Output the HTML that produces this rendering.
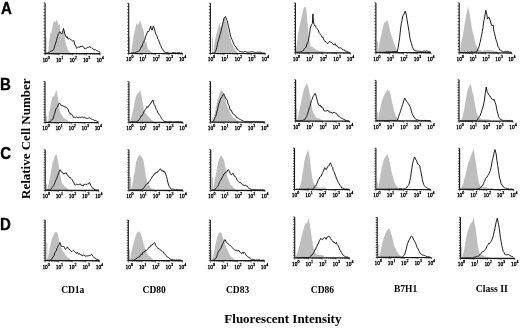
<!DOCTYPE html>
<html><head><meta charset="utf-8"><style>
html,body{margin:0;padding:0;background:#fff;}
svg{display:block;}
.t{font-family:"Liberation Serif",serif;font-size:5.4px;fill:#000;stroke:#000;stroke-width:0.3px;}
.sp{font-size:4px;}
.rl{font-family:"Liberation Sans",sans-serif;font-weight:bold;font-size:16px;fill:#000;stroke:#000;stroke-width:0.3px;}
.cl{font-family:"Liberation Serif",serif;font-weight:bold;font-size:9.5px;fill:#000;}
.ax{font-family:"Liberation Serif",serif;font-weight:bold;font-size:13px;fill:#000;}
</style></head><body>
<svg style="will-change:transform" width="520" height="328" viewBox="0 0 520 328">
<rect width="520" height="328" fill="#fff"/>
<text class="rl" transform="translate(0.9,13.6) scale(0.94,1)">A</text>
<text class="rl" transform="translate(0.1,90.4) scale(0.94,1)">B</text>
<text class="rl" transform="translate(0.2,158.7) scale(0.94,1)">C</text>
<text class="rl" transform="translate(0.1,229.8) scale(0.94,1)">D</text>
<text class="ax" transform="translate(30.3,138.7) rotate(-90)" text-anchor="middle">Relative Cell Number</text>
<text class="cl" x="72.75" y="293" text-anchor="middle">CD1a</text>
<text class="cl" x="154.2" y="293" text-anchor="middle">CD80</text>
<text class="cl" x="237.6" y="292.7" text-anchor="middle">CD83</text>
<text class="cl" x="322.4" y="292.7" text-anchor="middle">CD86</text>
<text class="cl" x="405.6" y="291.8" text-anchor="middle">B7H1</text>
<text class="cl" x="491.8" y="291.8" text-anchor="middle" style="font-size:9.7px">Class II</text>
<text class="ax" x="282.9" y="322.8" text-anchor="middle">Fluorescent Intensity</text>
<polygon points="45.2,53.6 45.2,53.6 45.3,36.6 46.5,36.6 46.6,53.6 47.35,53.49 48.1,53.6 48.9,43.2 49.75,36.82 50.6,31.7 51.4,33.3 52.2,28.4 53.1,23.4 54.2,21 55.2,22.6 56.4,20.1 57.5,21.8 58.5,25 59.7,24.2 60.5,31.7 61.8,36.6 62.9,30.8 63.8,28.4 64.6,36.6 65.7,43.2 67.1,48.1 67.9,49.93 68.7,51.4 69.55,51.84 70.4,53 71,53.6 71,53.6" fill="#bebebe"/>
<polyline points="45.3,53.3 45.9,53.24 46.5,53.04 47.1,52.72 47.7,52.97 48.3,52.53 48.9,52.8 49.56,52.3 50.22,51.52 50.88,51.07 51.54,50.96 52.2,50.6 53.05,50.22 53.9,49 54.55,46.24 55.2,44.8 56.4,40.7 57.5,36.6 58.15,34.4 58.8,33.3 59.7,31.7 60.5,32.5 61.15,33.55 61.8,34.1 62.9,30.8 63.5,28.4 64.1,30.5 65.1,35 66.2,37.4 67.2,36.5 67.8,38.7 68.4,39.1 69.5,38.4 70.5,39.5 71.5,40.1 72.2,40.75 72.9,41.1 73.9,40.6 74.9,44.5 75.9,46.5 76.8,48.4 77.8,47.4 78.55,47.02 79.3,47 80,47.37 80.7,46 81.7,47 82.45,45.94 83.2,46.5 84.2,47.9 84.9,48.94 85.6,48.9 86.35,48.08 87.1,47.9 87.85,47.07 88.6,47.4 89.3,46.54 90,47 91,47.4 92,48.4 92.7,48.37 93.4,48.9 94.15,49.83 94.9,49.9 95.65,49.76 96.4,50.4 97.1,50.74 97.8,50.9 98.55,51.49 99.3,51.8 100.05,52.44 100.8,53.3" fill="none" stroke="#111" stroke-width="0.95" stroke-linejoin="round"/>
<line x1="45.1" y1="2.9" x2="45.1" y2="53.6" stroke="#1a1a1a" stroke-width="1.15"/>
<path d="M43.6 2.9h1.5 M43.6 6.07h1.5 M43.6 9.24h1.5 M43.6 12.41h1.5 M43.6 15.58h1.5 M43.6 18.74h1.5 M43.6 21.91h1.5 M43.6 25.08h1.5 M43.6 28.25h1.5 M43.6 31.42h1.5 M43.6 34.59h1.5 M43.6 37.76h1.5 M43.6 40.93h1.5 M43.6 44.09h1.5 M43.6 47.26h1.5 M43.6 50.43h1.5 M43.6 53.6h1.5" stroke="#1a1a1a" stroke-width="0.75"/>
<line x1="45.1" y1="53.6" x2="100.1" y2="53.6" stroke="#1a1a1a" stroke-width="1.2"/>
<path d="M45.1 53.6v1.8 M49.24 53.6v1 M51.66 53.6v1 M53.38 53.6v1 M54.71 53.6v1 M55.8 53.6v1 M56.72 53.6v1 M57.52 53.6v1 M58.22 53.6v1 M58.85 53.6v1.8 M62.99 53.6v1 M65.41 53.6v1 M67.13 53.6v1 M68.46 53.6v1 M69.55 53.6v1 M70.47 53.6v1 M71.27 53.6v1 M71.97 53.6v1 M72.6 53.6v1.8 M76.74 53.6v1 M79.16 53.6v1 M80.88 53.6v1 M82.21 53.6v1 M83.3 53.6v1 M84.22 53.6v1 M85.02 53.6v1 M85.72 53.6v1 M86.35 53.6v1.8 M90.49 53.6v1 M92.91 53.6v1 M94.63 53.6v1 M95.96 53.6v1 M97.05 53.6v1 M97.97 53.6v1 M98.77 53.6v1 M99.47 53.6v1 M100.1 53.6v1.8" stroke="#1a1a1a" stroke-width="0.6"/>
<text x="42.4" y="61.5" class="t">10<tspan class="sp" dy="-3.0">0</tspan></text>
<text x="55.9" y="61.5" class="t">10<tspan class="sp" dy="-3.0">1</tspan></text>
<text x="69.4" y="61.5" class="t">10<tspan class="sp" dy="-3.0">2</tspan></text>
<text x="82.9" y="61.5" class="t">10<tspan class="sp" dy="-3.0">3</tspan></text>
<text x="96.4" y="61.5" class="t">10<tspan class="sp" dy="-3.0">4</tspan></text>
<polygon points="129.16,53.5 129.16,53.5 129.16,36.51 130.16,36.51 130.16,53.5 131.02,53.48 131.8,47.63 132.59,42.75 133.37,37.87 134.15,33.97 134.73,31.04 135.71,26.17 136.68,22.65 137.66,25.19 138.83,23.24 139.61,21.87 140.39,20.51 141.17,23.24 142.34,27.14 143.71,31.04 144.49,37.87 145.46,42.75 146.44,40.8 147.22,46.46 148.39,49.19 149.37,50.22 150.34,51.14 151.07,51.34 151.8,51.96 152.54,52.69 153.27,53.48 153.27,53.5" fill="#bebebe"/>
<polyline points="129.85,53.48 130.5,53.2 131.15,53.2 131.8,53.03 132.46,53.11 133.11,52.91 133.76,52.68 134.41,52.95 135.06,52.77 135.71,52.51 136.44,51.94 137.17,51.89 137.9,51.51 138.63,51.14 139.28,50.74 139.93,49.75 140.59,48.6 141.32,46.78 142.05,46.62 142.78,43.45 143.51,42.75 144.21,40.64 144.92,39.36 145.62,36.2 146.32,34.92 147.02,33 147.8,31.23 148.59,31.64 149.37,30.46 150.15,28.12 150.73,26.17 151.32,29.09 152.29,30.07 153.27,26.17 154.24,28.12 155.22,32.02 155.87,34.04 156.52,35.16 157.17,36.51 157.82,39.01 158.47,39.65 159.12,41.78 159.85,43.87 160.59,45.38 161.32,47.04 162.05,48.6 162.78,49.47 163.51,50.85 164.24,51.83 164.98,52.31 165.71,52.39 166.44,52.64 167.17,52.25 167.9,52.7 168.63,52.95 169.37,53.01 170.1,53.2 170.83,53.09 171.56,53.19 172.29,52.63 173.02,52.56 173.76,52.51 174.49,52.79 175.22,52.43 175.95,52.92 176.68,53.09 177.41,52.75 178.15,52.61 178.88,52.46 179.61,52.7 180.34,53.1 181.07,52.83 181.8,53.11 182.54,53.2" fill="none" stroke="#111" stroke-width="0.95" stroke-linejoin="round"/>
<line x1="128.7" y1="3.3" x2="128.7" y2="53.5" stroke="#1a1a1a" stroke-width="1.15"/>
<path d="M127.2 3.3h1.5 M127.2 6.44h1.5 M127.2 9.57h1.5 M127.2 12.71h1.5 M127.2 15.85h1.5 M127.2 18.99h1.5 M127.2 22.13h1.5 M127.2 25.26h1.5 M127.2 28.4h1.5 M127.2 31.54h1.5 M127.2 34.67h1.5 M127.2 37.81h1.5 M127.2 40.95h1.5 M127.2 44.09h1.5 M127.2 47.23h1.5 M127.2 50.36h1.5 M127.2 53.5h1.5" stroke="#1a1a1a" stroke-width="0.75"/>
<line x1="128.7" y1="53.5" x2="182.6" y2="53.5" stroke="#1a1a1a" stroke-width="1.2"/>
<path d="M128.7 53.5v1.8 M132.76 53.5v1 M135.13 53.5v1 M136.81 53.5v1 M138.12 53.5v1 M139.19 53.5v1 M140.09 53.5v1 M140.87 53.5v1 M141.56 53.5v1 M142.17 53.5v1.8 M146.23 53.5v1 M148.6 53.5v1 M150.29 53.5v1 M151.59 53.5v1 M152.66 53.5v1 M153.56 53.5v1 M154.34 53.5v1 M155.03 53.5v1 M155.65 53.5v1.8 M159.71 53.5v1 M162.08 53.5v1 M163.76 53.5v1 M165.07 53.5v1 M166.14 53.5v1 M167.04 53.5v1 M167.82 53.5v1 M168.51 53.5v1 M169.12 53.5v1.8 M173.18 53.5v1 M175.55 53.5v1 M177.24 53.5v1 M178.54 53.5v1 M179.61 53.5v1 M180.51 53.5v1 M181.29 53.5v1 M181.98 53.5v1 M182.6 53.5v1.8" stroke="#1a1a1a" stroke-width="0.6"/>
<text x="126" y="61.4" class="t">10<tspan class="sp" dy="-3.0">0</tspan></text>
<text x="139.22" y="61.4" class="t">10<tspan class="sp" dy="-3.0">1</tspan></text>
<text x="152.45" y="61.4" class="t">10<tspan class="sp" dy="-3.0">2</tspan></text>
<text x="165.67" y="61.4" class="t">10<tspan class="sp" dy="-3.0">3</tspan></text>
<text x="178.9" y="61.4" class="t">10<tspan class="sp" dy="-3.0">4</tspan></text>
<polygon points="211.94,53.5 211.94,53.5 211.94,37.87 212.94,37.87 212.94,53.5 213.41,53.48 214,46.46 214.59,42.75 215.37,37.87 216.34,34.36 217.32,31.04 218.1,28.12 218.88,24.21 219.46,22.26 220.24,26.17 221.22,28.12 222.2,23.82 223.17,19.34 224.34,17 225.51,17.97 226.49,21.87 227.46,26.17 228.44,31.71 229.41,35.92 230.39,38.58 231.37,42.75 232.34,44.61 233.32,46.65 234.05,47.7 234.78,49.13 235.51,49.97 236.24,50.56 237.22,52.33 238.2,53.48 238.2,53.5" fill="#bebebe"/>
<polyline points="211.85,53.48 212.59,53.14 213.32,53.03 214.05,52.79 214.78,52.7 215.43,51.42 216.08,49.94 216.73,47.63 217.38,44.33 218.03,41.78 218.68,39.82 219.33,37.01 219.98,34.74 220.63,33 221.28,30.04 221.93,27.32 222.59,24.21 223.24,21.46 223.89,18.67 224.54,17.39 225.51,16.41 226.49,19.34 227.07,20.31 227.76,23.08 228.44,26.17 229.09,28.83 229.74,32.15 230.39,34.95 231.12,37.8 231.85,39.23 232.59,40.83 233.32,42.75 233.97,44.29 234.62,45.71 235.27,46.65 235.92,46.55 236.57,48.58 237.22,48.6 237.95,49.71 238.68,50.53 239.41,51.13 240.15,51.53 240.88,51.63 241.61,51.83 242.34,51.77 243.07,52.31 243.72,52.17 244.37,51.38 245.02,51.53 245.67,51.46 246.33,51.93 246.98,52.51 247.71,52.18 248.44,52.28 249.17,51.99 249.9,52.31 250.63,51.78 251.37,51.81 252.1,51.66 252.83,51.92 253.56,52 254.29,51.91 255.02,52.81 255.76,52.7 256.49,52.7 257.22,52.22 257.95,52.2 258.68,52.31 259.41,52.28 260.15,52.4 260.88,52.3 261.61,52.7 262.26,53.1 262.91,53.2 263.56,53.07 264.21,53.2 264.86,53.07 265.51,53.2" fill="none" stroke="#111" stroke-width="0.95" stroke-linejoin="round"/>
<line x1="210.4" y1="3.3" x2="210.4" y2="53.5" stroke="#1a1a1a" stroke-width="1.15"/>
<path d="M208.9 3.3h1.5 M208.9 6.44h1.5 M208.9 9.57h1.5 M208.9 12.71h1.5 M208.9 15.85h1.5 M208.9 18.99h1.5 M208.9 22.13h1.5 M208.9 25.26h1.5 M208.9 28.4h1.5 M208.9 31.54h1.5 M208.9 34.67h1.5 M208.9 37.81h1.5 M208.9 40.95h1.5 M208.9 44.09h1.5 M208.9 47.23h1.5 M208.9 50.36h1.5 M208.9 53.5h1.5" stroke="#1a1a1a" stroke-width="0.75"/>
<line x1="210.4" y1="53.5" x2="265.25" y2="53.5" stroke="#1a1a1a" stroke-width="1.2"/>
<path d="M210.4 53.5v1.8 M214.53 53.5v1 M216.94 53.5v1 M218.66 53.5v1 M219.98 53.5v1 M221.07 53.5v1 M221.99 53.5v1 M222.78 53.5v1 M223.49 53.5v1 M224.11 53.5v1.8 M228.24 53.5v1 M230.66 53.5v1 M232.37 53.5v1 M233.7 53.5v1 M234.78 53.5v1 M235.7 53.5v1 M236.5 53.5v1 M237.2 53.5v1 M237.82 53.5v1.8 M241.95 53.5v1 M244.37 53.5v1 M246.08 53.5v1 M247.41 53.5v1 M248.5 53.5v1 M249.41 53.5v1 M250.21 53.5v1 M250.91 53.5v1 M251.54 53.5v1.8 M255.67 53.5v1 M258.08 53.5v1 M259.79 53.5v1 M261.12 53.5v1 M262.21 53.5v1 M263.13 53.5v1 M263.92 53.5v1 M264.62 53.5v1 M265.25 53.5v1.8" stroke="#1a1a1a" stroke-width="0.6"/>
<text x="207.7" y="61.4" class="t">10<tspan class="sp" dy="-3.0">0</tspan></text>
<text x="221.16" y="61.4" class="t">10<tspan class="sp" dy="-3.0">1</tspan></text>
<text x="234.62" y="61.4" class="t">10<tspan class="sp" dy="-3.0">2</tspan></text>
<text x="248.09" y="61.4" class="t">10<tspan class="sp" dy="-3.0">3</tspan></text>
<text x="261.55" y="61.4" class="t">10<tspan class="sp" dy="-3.0">4</tspan></text>
<polygon points="295.46,52.8 295.46,52.78 296.44,46.54 297.22,41.08 298,35.03 298.98,29.37 300.15,23.51 301.32,18.44 302.29,13.76 303.27,9.86 304.24,7.51 305.22,6.15 306.2,8.88 307.17,18.44 307.95,27.42 308.73,35.03 309.71,42.05 310.49,46.15 311.85,46.93 312.63,46.85 313.41,47.9 314.39,48.39 315.37,49.27 316.1,49.4 316.83,50.39 317.56,50.11 318.29,50.83 319.05,50.51 319.81,51.45 320.57,51.18 321.33,50.96 322.09,51.41 322.85,51.09 323.6,51.61 324.36,52.08 325.12,51.81 325.84,52.1 326.56,51.98 327.28,51.65 328,51.75 328.72,51.6 329.44,52.08 330.15,51.9 330.87,52.1 331.59,51.77 332.31,51.7 333.03,52.16 333.75,52.3 334.47,52.21 335.19,52.18 335.91,52.2 336.62,52.15 337.34,51.78 338.06,52.01 338.78,52 339.76,52.29 340.73,52.78 340.73,52.8" fill="#bebebe"/>
<polyline points="295.5,52.6 296.2,52.21 296.9,52.15 297.6,52.26 298.3,52.19 299,52.3 299.65,52.15 300.3,52.08 300.95,51.35 301.6,51.51 302.25,51.28 302.9,50.5 303.5,50.42 304.1,49.13 304.7,48.33 305.3,47.71 305.9,47.5 306.63,45 307.37,43.04 308.1,41.7 308.8,38.3 309.5,34.4 310.2,28.5 311.4,24.8 312.4,23.4 312.9,13.9 313.5,22 313.9,24.1 314.65,25.65 315.4,25.6 316.1,27.73 316.8,28.5 318,29.5 319.1,32.6 319.83,33.49 320.57,34.77 321.3,35.4 322.03,37.27 322.77,37.1 323.5,39.2 324.23,40.25 324.97,41.49 325.7,41.4 326.43,42.7 327.17,43.37 327.9,43.6 328.63,42.82 329.37,41.49 330.1,41.4 330.9,42.53 331.7,42.5 332.55,43.27 333.4,44.7 334.2,44.75 335,43.6 335.73,45.44 336.47,45.2 337.2,46.3 337.88,46.56 338.55,47.86 339.22,47.92 339.9,48 340.56,47.86 341.22,48.14 341.88,48.51 342.54,49.78 343.2,49.6 343.86,50.29 344.52,49.9 345.18,50.95 345.84,51.42 346.5,51.3 347.16,51.73 347.82,51.78 348.48,52.24 349.14,52.24 349.8,52.5" fill="none" stroke="#111" stroke-width="0.95" stroke-linejoin="round"/>
<line x1="295.4" y1="2.9" x2="295.4" y2="52.8" stroke="#1a1a1a" stroke-width="1.15"/>
<path d="M293.9 2.9h1.5 M293.9 6.02h1.5 M293.9 9.14h1.5 M293.9 12.26h1.5 M293.9 15.38h1.5 M293.9 18.49h1.5 M293.9 21.61h1.5 M293.9 24.73h1.5 M293.9 27.85h1.5 M293.9 30.97h1.5 M293.9 34.09h1.5 M293.9 37.21h1.5 M293.9 40.32h1.5 M293.9 43.44h1.5 M293.9 46.56h1.5 M293.9 49.68h1.5 M293.9 52.8h1.5" stroke="#1a1a1a" stroke-width="0.75"/>
<line x1="295.4" y1="52.8" x2="350.45" y2="52.8" stroke="#1a1a1a" stroke-width="1.2"/>
<path d="M295.4 52.8v1.8 M299.54 52.8v1 M301.97 52.8v1 M303.69 52.8v1 M305.02 52.8v1 M306.11 52.8v1 M307.03 52.8v1 M307.83 52.8v1 M308.53 52.8v1 M309.16 52.8v1.8 M313.31 52.8v1 M315.73 52.8v1 M317.45 52.8v1 M318.78 52.8v1 M319.87 52.8v1 M320.79 52.8v1 M321.59 52.8v1 M322.3 52.8v1 M322.92 52.8v1.8 M327.07 52.8v1 M329.49 52.8v1 M331.21 52.8v1 M332.54 52.8v1 M333.63 52.8v1 M334.56 52.8v1 M335.35 52.8v1 M336.06 52.8v1 M336.69 52.8v1.8 M340.83 52.8v1 M343.25 52.8v1 M344.97 52.8v1 M346.31 52.8v1 M347.4 52.8v1 M348.32 52.8v1 M349.12 52.8v1 M349.82 52.8v1 M350.45 52.8v1.8" stroke="#1a1a1a" stroke-width="0.6"/>
<text x="292.7" y="60.7" class="t">10<tspan class="sp" dy="-3.0">0</tspan></text>
<text x="306.21" y="60.7" class="t">10<tspan class="sp" dy="-3.0">1</tspan></text>
<text x="319.73" y="60.7" class="t">10<tspan class="sp" dy="-3.0">2</tspan></text>
<text x="333.24" y="60.7" class="t">10<tspan class="sp" dy="-3.0">3</tspan></text>
<text x="346.75" y="60.7" class="t">10<tspan class="sp" dy="-3.0">4</tspan></text>
<polygon points="376.91,52.7 376.91,52.7 376.91,41.38 377.91,41.38 377.91,52.7 378.78,47.23 379.76,41.48 380.73,37.47 381.71,33.44 382.68,27.72 383.66,25.06 384.63,21.86 385.61,22.84 386.59,19.91 387.95,21.86 388.73,24.84 389.51,27.72 390.49,32.4 391.46,35.52 392.44,38.33 393.41,41.38 394.2,44 394.98,45.28 396.34,49.18 397.32,50.67 398.29,51.52 399.02,51.59 399.76,51.93 400.49,52.26 401.22,52.69 401.22,52.7" fill="#bebebe"/>
<polyline points="375.9,52.69 376.55,52.4 377.19,52.4 377.84,52.4 378.48,52.4 379.13,52.22 379.77,52.4 380.42,52.29 381.06,52.32 381.71,52.3 382.31,52.33 382.91,52.4 383.51,52.15 384.11,52.4 384.71,52.15 385.31,52.15 385.91,52.11 386.51,51.7 387.11,51.99 387.71,51.76 388.31,51.59 388.91,52.17 389.51,51.91 390.16,51.59 390.81,51.76 391.46,51.9 392.11,51.7 392.76,51.44 393.41,51.52 394.07,51.54 394.72,51.57 395.37,51.76 396.02,51.19 396.67,51.57 397.32,51.52 398.29,47.23 398.98,41.85 399.66,37.47 400.44,30.2 401.22,23.81 402,20.46 402.78,16.01 403.46,15.05 404.15,14.06 405.12,11.13 406.1,14.06 407.07,19.91 408.05,25.77 409.02,31.62 410,38.45 410.68,41.01 411.37,43.33 412.15,46.24 412.93,48.2 413.58,49.57 414.23,49.83 414.88,50.74 415.53,50.94 416.18,50.92 416.83,51.01 417.48,51.27 418.13,51.13 418.78,51.29 419.43,51.33 420.08,51.82 420.73,51.52 421.38,51.63 422.03,51.72 422.68,51.72 423.33,51.05 423.98,51.25 424.63,51.13 425.28,51.6 425.93,51.56 426.59,51.01 427.24,51.06 427.89,51.41 428.54,51.52 429.19,51.3 429.84,51.57 430.49,51.91" fill="none" stroke="#111" stroke-width="0.95" stroke-linejoin="round"/>
<line x1="375.9" y1="2.9" x2="375.9" y2="52.7" stroke="#1a1a1a" stroke-width="1.15"/>
<path d="M374.4 2.9h1.5 M374.4 6.01h1.5 M374.4 9.12h1.5 M374.4 12.24h1.5 M374.4 15.35h1.5 M374.4 18.46h1.5 M374.4 21.57h1.5 M374.4 24.69h1.5 M374.4 27.8h1.5 M374.4 30.91h1.5 M374.4 34.03h1.5 M374.4 37.14h1.5 M374.4 40.25h1.5 M374.4 43.36h1.5 M374.4 46.48h1.5 M374.4 49.59h1.5 M374.4 52.7h1.5" stroke="#1a1a1a" stroke-width="0.75"/>
<line x1="375.9" y1="52.7" x2="430.9" y2="52.7" stroke="#1a1a1a" stroke-width="1.2"/>
<path d="M375.9 52.7v1.8 M380.04 52.7v1 M382.46 52.7v1 M384.18 52.7v1 M385.51 52.7v1 M386.6 52.7v1 M387.52 52.7v1 M388.32 52.7v1 M389.02 52.7v1 M389.65 52.7v1.8 M393.79 52.7v1 M396.21 52.7v1 M397.93 52.7v1 M399.26 52.7v1 M400.35 52.7v1 M401.27 52.7v1 M402.07 52.7v1 M402.77 52.7v1 M403.4 52.7v1.8 M407.54 52.7v1 M409.96 52.7v1 M411.68 52.7v1 M413.01 52.7v1 M414.1 52.7v1 M415.02 52.7v1 M415.82 52.7v1 M416.52 52.7v1 M417.15 52.7v1.8 M421.29 52.7v1 M423.71 52.7v1 M425.43 52.7v1 M426.76 52.7v1 M427.85 52.7v1 M428.77 52.7v1 M429.57 52.7v1 M430.27 52.7v1 M430.9 52.7v1.8" stroke="#1a1a1a" stroke-width="0.6"/>
<text x="373.2" y="60.6" class="t">10<tspan class="sp" dy="-3.0">0</tspan></text>
<text x="386.7" y="60.6" class="t">10<tspan class="sp" dy="-3.0">1</tspan></text>
<text x="400.2" y="60.6" class="t">10<tspan class="sp" dy="-3.0">2</tspan></text>
<text x="413.7" y="60.6" class="t">10<tspan class="sp" dy="-3.0">3</tspan></text>
<text x="427.2" y="60.6" class="t">10<tspan class="sp" dy="-3.0">4</tspan></text>
<polygon points="459.85,52.8 459.85,52.79 460.83,45.38 461.8,39.73 462.78,35.62 463.56,31.05 464.34,25.87 465.32,20.52 466.29,14.16 467.07,11.26 467.85,6.94 468.63,8.95 469.41,12.21 470.2,17.47 470.98,21.96 471.76,27.13 472.54,31.72 473.51,34.98 474.49,39.52 475.46,43.14 476.44,45.38 477.41,48.01 478.39,49.28 479.12,49.26 479.85,50.35 480.59,50.05 481.32,50.45 482.05,50.41 482.78,50.89 483.51,50.71 484.24,50.02 484.98,50.26 485.71,50.32 486.44,50.12 487.17,50.26 487.9,50 488.63,50.17 489.37,50.62 490.1,49.98 490.83,50.55 491.56,50.49 492.29,50.13 493.02,50.65 493.8,50.69 494.59,51.15 495.37,51.24 496.15,51.06 496.93,51.62 497.9,52.56 498.88,52.79 498.88,52.8" fill="#bebebe"/>
<polyline points="459.85,52.79 460.46,52.5 461.07,52.5 461.68,52.42 462.29,52.49 462.9,52.3 463.51,52.5 464.12,52.38 464.73,52.24 465.34,52.41 465.95,52.5 466.56,52.5 467.17,52.18 467.78,52.06 468.39,52.5 469,52.3 469.61,52.21 470.23,52.34 470.85,51.86 471.47,51.82 472.09,52.28 472.71,52.06 473.33,51.77 473.96,52.42 474.58,52.17 475.2,52.28 475.82,51.71 476.44,52.01 477.09,51.13 477.74,49.02 478.39,48.3 479.04,46.67 479.69,43.66 480.34,41.48 480.99,37.9 481.64,35.08 482.29,31.72 482.98,27.69 483.66,21.96 484.83,16.11 485.8,10.26 486.78,14.16 487.56,19.04 488.73,17.09 489.71,19.04 490.39,21.01 491.07,23.91 492.05,25.87 493.02,24.89 494,31.72 494.65,33.58 495.3,36.98 495.95,39.52 496.6,41.28 497.25,43.3 497.9,46.35 498.55,47.14 499.2,48.37 499.85,50.26 500.59,50.29 501.32,50.76 502.05,51.1 502.78,51.62 503.43,51.84 504.08,51.44 504.73,51.62 505.38,51.35 506.03,51.49 506.68,51.62 507.29,51.32 507.9,51.61 508.51,51.53 509.12,52.19 509.73,52.15 510.34,51.97 510.95,52.29 511.56,52.4" fill="none" stroke="#111" stroke-width="0.95" stroke-linejoin="round"/>
<line x1="459.2" y1="2.9" x2="459.2" y2="52.8" stroke="#1a1a1a" stroke-width="1.15"/>
<path d="M457.7 2.9h1.5 M457.7 6.02h1.5 M457.7 9.14h1.5 M457.7 12.26h1.5 M457.7 15.38h1.5 M457.7 18.49h1.5 M457.7 21.61h1.5 M457.7 24.73h1.5 M457.7 27.85h1.5 M457.7 30.97h1.5 M457.7 34.09h1.5 M457.7 37.21h1.5 M457.7 40.32h1.5 M457.7 43.44h1.5 M457.7 46.56h1.5 M457.7 49.68h1.5 M457.7 52.8h1.5" stroke="#1a1a1a" stroke-width="0.75"/>
<line x1="459.2" y1="52.8" x2="511.85" y2="52.8" stroke="#1a1a1a" stroke-width="1.2"/>
<path d="M459.2 52.8v1.8 M463.16 52.8v1 M465.48 52.8v1 M467.12 52.8v1 M468.4 52.8v1 M469.44 52.8v1 M470.32 52.8v1 M471.09 52.8v1 M471.76 52.8v1 M472.36 52.8v1.8 M476.32 52.8v1 M478.64 52.8v1 M480.29 52.8v1 M481.56 52.8v1 M482.6 52.8v1 M483.49 52.8v1 M484.25 52.8v1 M484.92 52.8v1 M485.52 52.8v1.8 M489.49 52.8v1 M491.81 52.8v1 M493.45 52.8v1 M494.73 52.8v1 M495.77 52.8v1 M496.65 52.8v1 M497.41 52.8v1 M498.09 52.8v1 M498.69 52.8v1.8 M502.65 52.8v1 M504.97 52.8v1 M506.61 52.8v1 M507.89 52.8v1 M508.93 52.8v1 M509.81 52.8v1 M510.57 52.8v1 M511.25 52.8v1 M511.85 52.8v1.8" stroke="#1a1a1a" stroke-width="0.6"/>
<text x="456.5" y="60.7" class="t">10<tspan class="sp" dy="-3.0">0</tspan></text>
<text x="469.41" y="60.7" class="t">10<tspan class="sp" dy="-3.0">1</tspan></text>
<text x="482.33" y="60.7" class="t">10<tspan class="sp" dy="-3.0">2</tspan></text>
<text x="495.24" y="60.7" class="t">10<tspan class="sp" dy="-3.0">3</tspan></text>
<text x="508.15" y="60.7" class="t">10<tspan class="sp" dy="-3.0">4</tspan></text>
<polygon points="45.94,122.5 45.94,122.5 45.94,115.68 46.94,115.68 46.94,122.5 48.2,122.5 48.78,113.73 49.76,109.63 50.73,103.97 52.1,98.12 53.27,95.19 54.05,97.14 54.83,93.99 55.61,92.26 56.59,90.31 57.56,96.17 58.54,102.02 59.51,109.82 60.49,112.84 61.46,114.7 62.44,116.06 63.41,117.63 64.15,118.11 64.88,119.01 65.61,118.97 66.34,119.58 67.07,119.98 67.8,120.54 68.54,121.18 69.27,121.14 70.24,121.71 71.22,122.5 71.22,122.5" fill="#bebebe"/>
<polyline points="45.85,122.5 46.5,122.2 47.15,122.2 47.8,122.2 48.46,122.05 49.11,121.91 49.76,121.92 50.49,120.96 51.22,120.4 51.95,119.72 52.68,119.58 53.33,117.98 53.98,115.24 54.63,113.73 55.28,111.1 55.93,108.99 56.59,107.87 57.24,107.25 57.89,106.01 58.54,103.97 59.51,103 60.16,104.31 60.81,104.51 61.46,105.92 62.24,105.41 63.02,105.92 63.71,106 64.39,106.9 65.04,107.14 65.69,106.86 66.34,107.87 66.99,108.42 67.64,108.7 68.29,109.82 68.98,112.21 69.66,112.75 70.44,114.18 71.22,113.73 71.87,114.79 72.52,115.22 73.17,116.65 73.82,117.71 74.47,117.02 75.12,117.63 75.77,117.42 76.42,116.9 77.07,117.46 77.72,117.59 78.37,117.63 79.02,117.63 79.67,117.19 80.33,117.64 80.98,116.91 81.63,117.28 82.28,117.03 82.93,117.63 83.58,117.65 84.23,117.31 84.88,117.46 85.53,118.01 86.18,118.09 86.83,118.6 87.56,118.48 88.29,118.16 89.02,118.23 89.76,117.63 90.49,118.33 91.22,118.89 91.95,119.55 92.68,119.58 93.33,119.72 93.98,119.92 94.63,120.85 95.28,120.28 95.93,121.09 96.59,121.14 97.24,121.58 97.89,121.44 98.54,122.12" fill="none" stroke="#111" stroke-width="0.95" stroke-linejoin="round"/>
<line x1="45" y1="81.5" x2="45" y2="122.5" stroke="#1a1a1a" stroke-width="1.15"/>
<path d="M43.5 81.5h1.5 M43.5 84.06h1.5 M43.5 86.62h1.5 M43.5 89.19h1.5 M43.5 91.75h1.5 M43.5 94.31h1.5 M43.5 96.88h1.5 M43.5 99.44h1.5 M43.5 102h1.5 M43.5 104.56h1.5 M43.5 107.12h1.5 M43.5 109.69h1.5 M43.5 112.25h1.5 M43.5 114.81h1.5 M43.5 117.38h1.5 M43.5 119.94h1.5 M43.5 122.5h1.5" stroke="#1a1a1a" stroke-width="0.75"/>
<line x1="45" y1="122.5" x2="98.35" y2="122.5" stroke="#1a1a1a" stroke-width="1.2"/>
<path d="M45 122.5v1.8 M49.01 122.5v1 M51.36 122.5v1 M53.03 122.5v1 M54.32 122.5v1 M55.38 122.5v1 M56.27 122.5v1 M57.04 122.5v1 M57.73 122.5v1 M58.34 122.5v1.8 M62.35 122.5v1 M64.7 122.5v1 M66.37 122.5v1 M67.66 122.5v1 M68.72 122.5v1 M69.61 122.5v1 M70.38 122.5v1 M71.06 122.5v1 M71.67 122.5v1.8 M75.69 122.5v1 M78.04 122.5v1 M79.7 122.5v1 M81 122.5v1 M82.05 122.5v1 M82.95 122.5v1 M83.72 122.5v1 M84.4 122.5v1 M85.01 122.5v1.8 M89.03 122.5v1 M91.38 122.5v1 M93.04 122.5v1 M94.34 122.5v1 M95.39 122.5v1 M96.28 122.5v1 M97.06 122.5v1 M97.74 122.5v1 M98.35 122.5v1.8" stroke="#1a1a1a" stroke-width="0.6"/>
<text x="42.3" y="130.4" class="t">10<tspan class="sp" dy="-3.0">0</tspan></text>
<text x="55.39" y="130.4" class="t">10<tspan class="sp" dy="-3.0">1</tspan></text>
<text x="68.47" y="130.4" class="t">10<tspan class="sp" dy="-3.0">2</tspan></text>
<text x="81.56" y="130.4" class="t">10<tspan class="sp" dy="-3.0">3</tspan></text>
<text x="94.65" y="130.4" class="t">10<tspan class="sp" dy="-3.0">4</tspan></text>
<polygon points="129.85,122.3 129.85,122.3 130.83,119.38 131.8,116.03 132.78,111.58 133.76,107.4 134.73,101.82 136.1,95.97 136.88,94.73 137.66,93.04 138.44,92.97 139.22,92.06 140,89.14 141.17,94.01 142.54,101.82 143.9,109.62 144.68,112.14 145.46,113.53 146.44,113.85 147.41,115.48 148.39,116.49 149.37,117.43 150.1,118.17 150.83,119.27 151.56,119.94 152.29,120.36 153.02,121.12 153.76,121.39 154.49,122.09 155.22,122.3 155.22,122.3" fill="#bebebe"/>
<polyline points="129.85,122.3 130.5,122 131.15,122 131.8,122 132.46,121.91 133.11,121.95 133.76,122 134.41,121.89 135.06,122 135.71,122 136.44,121.72 137.17,121.34 137.9,120.91 138.63,120.36 139.28,119.59 139.93,118.39 140.59,117.43 141.24,115.65 141.89,116.01 142.54,114.5 143.19,113.7 143.84,111.91 144.49,110.6 145.14,109.69 145.79,108.97 146.44,107.67 147.09,106.48 147.74,107.5 148.39,106.7 149.17,105.23 149.95,104.75 150.63,102.92 151.32,102.8 152.1,100.86 152.88,99.87 153.56,102.77 154.24,104.75 154.93,105.62 155.61,107.67 156.39,109.62 157.17,110.6 157.82,112.85 158.47,113.19 159.12,114.5 159.77,115.27 160.42,116.42 161.07,117.43 161.72,118.64 162.37,119.68 163.02,120.36 163.67,120.92 164.33,121.38 164.98,121.72 165.63,121.43 166.28,121.5 166.93,121.61 167.58,121.99 168.23,121.69 168.88,121.9 169.53,121.52 170.18,121.58 170.83,121.92 171.48,121.73 172.13,122 172.78,121.99 173.43,121.96 174.08,121.66 174.73,121.8 175.38,121.74 176.03,121.72 176.68,121.72 177.33,121.48 177.98,122 178.63,121.63 179.28,122 179.93,122 180.59,121.64 181.24,122 181.89,122 182.54,122" fill="none" stroke="#111" stroke-width="0.95" stroke-linejoin="round"/>
<line x1="128.9" y1="81.7" x2="128.9" y2="122.3" stroke="#1a1a1a" stroke-width="1.15"/>
<path d="M127.4 81.7h1.5 M127.4 84.24h1.5 M127.4 86.77h1.5 M127.4 89.31h1.5 M127.4 91.85h1.5 M127.4 94.39h1.5 M127.4 96.92h1.5 M127.4 99.46h1.5 M127.4 102h1.5 M127.4 104.54h1.5 M127.4 107.07h1.5 M127.4 109.61h1.5 M127.4 112.15h1.5 M127.4 114.69h1.5 M127.4 117.22h1.5 M127.4 119.76h1.5 M127.4 122.3h1.5" stroke="#1a1a1a" stroke-width="0.75"/>
<line x1="128.9" y1="122.3" x2="183" y2="122.3" stroke="#1a1a1a" stroke-width="1.2"/>
<path d="M128.9 122.3v1.8 M132.97 122.3v1 M135.35 122.3v1 M137.04 122.3v1 M138.35 122.3v1 M139.42 122.3v1 M140.33 122.3v1 M141.11 122.3v1 M141.81 122.3v1 M142.43 122.3v1.8 M146.5 122.3v1 M148.88 122.3v1 M150.57 122.3v1 M151.88 122.3v1 M152.95 122.3v1 M153.85 122.3v1 M154.64 122.3v1 M155.33 122.3v1 M155.95 122.3v1.8 M160.02 122.3v1 M162.4 122.3v1 M164.09 122.3v1 M165.4 122.3v1 M166.47 122.3v1 M167.38 122.3v1 M168.16 122.3v1 M168.86 122.3v1 M169.47 122.3v1.8 M173.55 122.3v1 M175.93 122.3v1 M177.62 122.3v1 M178.93 122.3v1 M180 122.3v1 M180.9 122.3v1 M181.69 122.3v1 M182.38 122.3v1 M183 122.3v1.8" stroke="#1a1a1a" stroke-width="0.6"/>
<text x="126.2" y="130.2" class="t">10<tspan class="sp" dy="-3.0">0</tspan></text>
<text x="139.47" y="130.2" class="t">10<tspan class="sp" dy="-3.0">1</tspan></text>
<text x="152.75" y="130.2" class="t">10<tspan class="sp" dy="-3.0">2</tspan></text>
<text x="166.03" y="130.2" class="t">10<tspan class="sp" dy="-3.0">3</tspan></text>
<text x="179.3" y="130.2" class="t">10<tspan class="sp" dy="-3.0">4</tspan></text>
<polygon points="212.33,122.2 212.33,122.2 212.33,117.33 213.33,117.33 213.33,122.2 214,115.38 214.98,112.32 215.95,107.57 217.32,99.77 218.1,98.21 218.88,96.84 219.85,91.96 221.22,90.01 222.39,90.99 223.17,92.03 223.95,93.91 224.73,96.32 225.51,99.77 226.49,103.98 227.46,106.6 228.44,108.52 229.41,111.48 230.39,113.57 231.37,115.38 232.1,115.56 232.83,116.88 233.56,118.17 234.29,118.3 235.02,118.37 235.76,119.62 236.49,119.78 237.22,120.26 237.95,121.07 238.68,121.39 239.41,121.53 240.15,122.2 240.15,122.2" fill="#bebebe"/>
<polyline points="211.85,122.2 212.5,121.9 213.15,121.28 213.8,120.84 214.46,118.81 215.11,117.17 215.76,116.35 216.41,113.74 217.06,111.05 217.71,108.55 218.36,105.88 219.01,103.28 219.66,101.72 220.31,99.78 220.96,98.1 221.61,96.84 222.39,96.25 223.17,94.3 223.85,93.89 224.54,95.48 225.51,97.82 226.29,99.29 227.07,99.77 227.76,102.89 228.44,104.65 229.12,105.84 229.8,108.55 230.59,110.38 231.37,110.5 232.02,112.03 232.67,113.51 233.32,113.82 233.97,114.06 234.62,114.88 235.27,115.77 236,116.23 236.73,117.79 237.46,117.8 238.2,118.3 238.93,118.62 239.66,119.2 240.39,119.53 241.12,120.26 241.77,120.06 242.42,120.35 243.07,121.23 243.72,120.99 244.37,121.74 245.02,121.62 245.67,121.41 246.33,121.4 246.98,121.57 247.63,121.3 248.28,121.42 248.93,121.84 249.58,121.77 250.23,121.69 250.88,121.43 251.53,121.55 252.18,121.79 252.83,121.83 253.48,121.55 254.13,121.7 254.78,121.22 255.43,121.75 256.08,121.56 256.73,121.62 257.33,121.84 257.93,121.79 258.53,121.56 259.13,121.41 259.73,121.9 260.33,121.54 260.93,121.81 261.53,121.75 262.14,121.75 262.74,121.9 263.34,121.9 263.94,121.82 264.54,121.9" fill="none" stroke="#111" stroke-width="0.95" stroke-linejoin="round"/>
<line x1="210.5" y1="81.6" x2="210.5" y2="122.2" stroke="#1a1a1a" stroke-width="1.15"/>
<path d="M209 81.6h1.5 M209 84.14h1.5 M209 86.67h1.5 M209 89.21h1.5 M209 91.75h1.5 M209 94.29h1.5 M209 96.83h1.5 M209 99.36h1.5 M209 101.9h1.5 M209 104.44h1.5 M209 106.97h1.5 M209 109.51h1.5 M209 112.05h1.5 M209 114.59h1.5 M209 117.12h1.5 M209 119.66h1.5 M209 122.2h1.5" stroke="#1a1a1a" stroke-width="0.75"/>
<line x1="210.5" y1="122.2" x2="264.8" y2="122.2" stroke="#1a1a1a" stroke-width="1.2"/>
<path d="M210.5 122.2v1.8 M214.59 122.2v1 M216.98 122.2v1 M218.67 122.2v1 M219.99 122.2v1 M221.06 122.2v1 M221.97 122.2v1 M222.76 122.2v1 M223.45 122.2v1 M224.07 122.2v1.8 M228.16 122.2v1 M230.55 122.2v1 M232.25 122.2v1 M233.56 122.2v1 M234.64 122.2v1 M235.55 122.2v1 M236.33 122.2v1 M237.03 122.2v1 M237.65 122.2v1.8 M241.74 122.2v1 M244.13 122.2v1 M245.82 122.2v1 M247.14 122.2v1 M248.21 122.2v1 M249.12 122.2v1 M249.91 122.2v1 M250.6 122.2v1 M251.23 122.2v1.8 M255.31 122.2v1 M257.7 122.2v1 M259.4 122.2v1 M260.71 122.2v1 M261.79 122.2v1 M262.7 122.2v1 M263.48 122.2v1 M264.18 122.2v1 M264.8 122.2v1.8" stroke="#1a1a1a" stroke-width="0.6"/>
<text x="207.8" y="130.1" class="t">10<tspan class="sp" dy="-3.0">0</tspan></text>
<text x="221.12" y="130.1" class="t">10<tspan class="sp" dy="-3.0">1</tspan></text>
<text x="234.45" y="130.1" class="t">10<tspan class="sp" dy="-3.0">2</tspan></text>
<text x="247.78" y="130.1" class="t">10<tspan class="sp" dy="-3.0">3</tspan></text>
<text x="261.1" y="130.1" class="t">10<tspan class="sp" dy="-3.0">4</tspan></text>
<polygon points="296.33,121.1 296.33,121.1 296.33,109.02 297.33,109.02 297.33,121.1 298.05,117.21 298.78,112.93 299.63,108.67 300.47,105.23 301.32,101.22 302.29,96.15 303.27,91.46 304.24,88.43 305.22,86.59 306,84.51 306.78,83.66 307.66,85.08 308.54,87.56 309.32,92.19 310.1,95.37 311.46,105.12 312.63,110.98 313.51,112.92 314.39,114.88 315.12,115.2 315.85,116.89 316.59,117.69 317.32,117.8 318.05,118.16 318.78,118.27 319.51,118.75 320.24,119.09 320.98,119.74 321.71,119.97 322.44,120.51 323.17,121.1 323.17,121.1" fill="#bebebe"/>
<polyline points="295.85,121.1 296.47,120.8 297.1,120.8 297.72,120.8 298.34,120.8 298.96,120.8 299.58,120.8 300.2,120.8 300.82,120.75 301.44,120.69 302.06,120.46 302.68,120.73 303.46,120.03 304.24,120.1 305.02,119.17 305.8,117.46 306.59,116.63 307.27,114.59 307.95,112.54 308.63,110.36 309.32,107.66 310,106.24 310.68,103.37 311.46,100.65 312.24,99.07 313.02,96.76 313.8,95.37 314.59,93.89 315.37,93.41 316.15,96.14 316.93,99.27 317.61,101.6 318.29,104.15 318.94,105.38 319.59,105.49 320.24,105.12 320.89,106.84 321.54,106.12 322.2,108.05 322.93,107.84 323.66,109.93 324.39,111.04 325.12,110.98 325.85,110.92 326.59,111.15 327.32,109.98 328.05,110.98 328.78,111 329.51,112.32 330.24,112.36 330.98,111.95 331.71,112.91 332.44,113.38 333.17,112.18 333.9,112.93 334.63,112.4 335.37,112.75 336.1,113.7 336.83,113.9 337.56,114.95 338.29,116.07 339.02,116.43 339.76,116.83 340.49,117.51 341.22,118.12 341.95,118.24 342.68,118.78 343.41,119.22 344.15,119.14 344.88,120.19 345.61,120.34 346.34,120.33 347.07,120.8 347.8,120.8 348.54,120.8" fill="none" stroke="#111" stroke-width="0.95" stroke-linejoin="round"/>
<line x1="295.6" y1="79.8" x2="295.6" y2="121.1" stroke="#1a1a1a" stroke-width="1.15"/>
<path d="M294.1 79.8h1.5 M294.1 82.38h1.5 M294.1 84.96h1.5 M294.1 87.54h1.5 M294.1 90.12h1.5 M294.1 92.71h1.5 M294.1 95.29h1.5 M294.1 97.87h1.5 M294.1 100.45h1.5 M294.1 103.03h1.5 M294.1 105.61h1.5 M294.1 108.19h1.5 M294.1 110.77h1.5 M294.1 113.36h1.5 M294.1 115.94h1.5 M294.1 118.52h1.5 M294.1 121.1h1.5" stroke="#1a1a1a" stroke-width="0.75"/>
<line x1="295.6" y1="121.1" x2="349.55" y2="121.1" stroke="#1a1a1a" stroke-width="1.2"/>
<path d="M295.6 121.1v1.8 M299.66 121.1v1 M302.04 121.1v1 M303.72 121.1v1 M305.03 121.1v1 M306.1 121.1v1 M307 121.1v1 M307.78 121.1v1 M308.47 121.1v1 M309.09 121.1v1.8 M313.15 121.1v1 M315.52 121.1v1 M317.21 121.1v1 M318.51 121.1v1 M319.58 121.1v1 M320.49 121.1v1 M321.27 121.1v1 M321.96 121.1v1 M322.58 121.1v1.8 M326.64 121.1v1 M329.01 121.1v1 M330.7 121.1v1 M332 121.1v1 M333.07 121.1v1 M333.97 121.1v1 M334.76 121.1v1 M335.45 121.1v1 M336.06 121.1v1.8 M340.12 121.1v1 M342.5 121.1v1 M344.18 121.1v1 M345.49 121.1v1 M346.56 121.1v1 M347.46 121.1v1 M348.24 121.1v1 M348.93 121.1v1 M349.55 121.1v1.8" stroke="#1a1a1a" stroke-width="0.6"/>
<text x="292.9" y="129" class="t">10<tspan class="sp" dy="-3.0">0</tspan></text>
<text x="306.14" y="129" class="t">10<tspan class="sp" dy="-3.0">1</tspan></text>
<text x="319.38" y="129" class="t">10<tspan class="sp" dy="-3.0">2</tspan></text>
<text x="332.61" y="129" class="t">10<tspan class="sp" dy="-3.0">3</tspan></text>
<text x="345.85" y="129" class="t">10<tspan class="sp" dy="-3.0">4</tspan></text>
<polygon points="376.91,120.9 376.91,120.9 376.91,112.55 377.91,112.55 377.91,120.9 378.39,117.43 379.17,112.55 380.15,108.65 381.32,103.97 382.29,99.87 383.46,96.94 384.24,95.58 385.22,93.62 386.39,91.67 387.37,89.33 388.15,91.09 389.32,89.92 390.1,93.04 391.07,96.94 392.44,103.97 393.41,107.67 394.59,112.55 395.95,116.45 396.83,117.5 397.71,118.99 398.68,119.66 399.66,120.9 399.66,120.9" fill="#bebebe"/>
<polyline points="376,120.9 376.6,120.6 377.2,120.6 377.8,120.6 378.4,120.6 379,120.57 379.6,120.6 380.2,120.6 380.8,120.6 381.41,120.6 382.01,120.6 382.61,120.47 383.21,120.6 383.81,120.6 384.41,120.6 385.01,120.6 385.61,120.6 386.24,120.6 386.87,120.6 387.5,120.53 388.12,120.53 388.75,120.6 389.38,120.6 390.01,120.54 390.64,120.33 391.27,120.6 391.9,120.6 392.53,120.57 393.15,120.45 393.78,120.6 394.41,120.6 395.04,120.39 395.67,120.24 396.3,120.45 396.93,120.55 397.9,118.99 398.68,116.26 399.66,113.53 400.63,110.8 401.61,107.67 402.78,104.16 403.76,100.84 404.73,98.11 405.71,99.87 406.68,101.43 407.4,102.18 408.11,103.62 408.83,104.16 410,106.7 410.68,108.14 411.37,110.8 412.05,113.44 412.73,114.89 413.9,117.04 414.88,118.4 415.53,119.1 416.18,119.32 416.83,119.77 417.48,119.66 418.13,120.4 418.78,120.02 419.43,120.53 420.08,120.22 420.73,120.55 421.36,120.37 421.99,120.6 422.61,120.45 423.24,120.6 423.87,120.6 424.49,120.42 425.12,120.46 425.75,120.6 426.38,120.6 427,120.6 427.63,120.46 428.26,120.6 428.89,120.54 429.51,120.6" fill="none" stroke="#111" stroke-width="0.95" stroke-linejoin="round"/>
<line x1="376" y1="80.4" x2="376" y2="120.9" stroke="#1a1a1a" stroke-width="1.15"/>
<path d="M374.5 80.4h1.5 M374.5 82.93h1.5 M374.5 85.46h1.5 M374.5 87.99h1.5 M374.5 90.53h1.5 M374.5 93.06h1.5 M374.5 95.59h1.5 M374.5 98.12h1.5 M374.5 100.65h1.5 M374.5 103.18h1.5 M374.5 105.71h1.5 M374.5 108.24h1.5 M374.5 110.78h1.5 M374.5 113.31h1.5 M374.5 115.84h1.5 M374.5 118.37h1.5 M374.5 120.9h1.5" stroke="#1a1a1a" stroke-width="0.75"/>
<line x1="376" y1="120.9" x2="430.95" y2="120.9" stroke="#1a1a1a" stroke-width="1.2"/>
<path d="M376 120.9v1.8 M380.14 120.9v1 M382.55 120.9v1 M384.27 120.9v1 M385.6 120.9v1 M386.69 120.9v1 M387.61 120.9v1 M388.41 120.9v1 M389.11 120.9v1 M389.74 120.9v1.8 M393.87 120.9v1 M396.29 120.9v1 M398.01 120.9v1 M399.34 120.9v1 M400.43 120.9v1 M401.35 120.9v1 M402.14 120.9v1 M402.85 120.9v1 M403.48 120.9v1.8 M407.61 120.9v1 M410.03 120.9v1 M411.75 120.9v1 M413.08 120.9v1 M414.16 120.9v1 M415.08 120.9v1 M415.88 120.9v1 M416.58 120.9v1 M417.21 120.9v1.8 M421.35 120.9v1 M423.77 120.9v1 M425.48 120.9v1 M426.81 120.9v1 M427.9 120.9v1 M428.82 120.9v1 M429.62 120.9v1 M430.32 120.9v1 M430.95 120.9v1.8" stroke="#1a1a1a" stroke-width="0.6"/>
<text x="373.3" y="128.8" class="t">10<tspan class="sp" dy="-3.0">0</tspan></text>
<text x="386.79" y="128.8" class="t">10<tspan class="sp" dy="-3.0">1</tspan></text>
<text x="400.27" y="128.8" class="t">10<tspan class="sp" dy="-3.0">2</tspan></text>
<text x="413.76" y="128.8" class="t">10<tspan class="sp" dy="-3.0">3</tspan></text>
<text x="427.25" y="128.8" class="t">10<tspan class="sp" dy="-3.0">4</tspan></text>
<polygon points="460.63,121.1 460.63,121.1 461.8,118.78 462.52,116.83 463.24,112.95 463.95,110.98 464.93,104.32 465.9,99.27 466.88,93.6 467.85,89.51 468.73,87.37 469.61,85.61 470.39,83.66 471.56,87.56 472.54,92.18 473.51,95.37 474.29,100.93 475.07,105.12 476.44,111.95 477.41,114.77 478.39,116.83 479.12,118 479.85,118.47 480.59,118.41 481.32,119.17 482.03,118.94 482.74,119.67 483.45,119.55 484.16,118.97 484.86,119.58 485.57,119.38 486.28,119.43 486.99,119.45 487.7,119.37 488.41,119.29 489.12,119.76 490.1,120.27 491.07,121.1 491.07,121.1" fill="#bebebe"/>
<polyline points="459.85,121.1 460.48,120.8 461.1,120.8 461.72,120.8 462.34,120.8 462.96,120.8 463.58,120.8 464.2,120.8 464.83,120.8 465.45,120.8 466.07,120.66 466.69,120.8 467.31,120.8 467.93,120.8 468.55,120.7 469.18,120.8 469.8,120.8 470.42,120.54 471.04,120.79 471.66,120.8 472.28,120.8 472.91,120.49 473.53,120.47 474.15,120.48 474.77,120.8 475.39,120.59 476.01,120.8 476.63,120.73 477.35,120.1 478.07,118.61 478.78,117.8 479.43,116.18 480.08,115.95 480.73,113.9 481.38,112.19 482.03,109.52 482.68,108.05 483.46,105.07 484.24,101.22 485.22,93.41 486.2,87.17 487.17,91.46 488.15,93.41 489.12,95.37 489.9,95.97 490.68,97.32 491.37,97.84 492.05,99.27 493.02,100.24 494,99.27 494.98,102.2 495.76,104.13 496.54,108.05 497.22,111.49 497.9,113.9 498.59,116.49 499.27,117.8 499.9,118.59 500.54,119.51 501.17,119.29 501.8,120.34 502.41,120.16 503.02,120.37 503.63,120.76 504.24,120.78 504.85,120.38 505.46,120.3 506.07,120.46 506.68,120.54 507.33,120.58 507.98,120.8 508.63,120.44 509.28,120.8 509.93,120.8 510.59,120.8 511.24,120.8 511.89,120.8 512.54,120.8" fill="none" stroke="#111" stroke-width="0.95" stroke-linejoin="round"/>
<line x1="459" y1="79.8" x2="459" y2="121.1" stroke="#1a1a1a" stroke-width="1.15"/>
<path d="M457.5 79.8h1.5 M457.5 82.38h1.5 M457.5 84.96h1.5 M457.5 87.54h1.5 M457.5 90.12h1.5 M457.5 92.71h1.5 M457.5 95.29h1.5 M457.5 97.87h1.5 M457.5 100.45h1.5 M457.5 103.03h1.5 M457.5 105.61h1.5 M457.5 108.19h1.5 M457.5 110.77h1.5 M457.5 113.36h1.5 M457.5 115.94h1.5 M457.5 118.52h1.5 M457.5 121.1h1.5" stroke="#1a1a1a" stroke-width="0.75"/>
<line x1="459" y1="121.1" x2="512.95" y2="121.1" stroke="#1a1a1a" stroke-width="1.2"/>
<path d="M459 121.1v1.8 M463.06 121.1v1 M465.44 121.1v1 M467.12 121.1v1 M468.43 121.1v1 M469.5 121.1v1 M470.4 121.1v1 M471.18 121.1v1 M471.87 121.1v1 M472.49 121.1v1.8 M476.55 121.1v1 M478.92 121.1v1 M480.61 121.1v1 M481.91 121.1v1 M482.98 121.1v1 M483.89 121.1v1 M484.67 121.1v1 M485.36 121.1v1 M485.98 121.1v1.8 M490.04 121.1v1 M492.41 121.1v1 M494.1 121.1v1 M495.4 121.1v1 M496.47 121.1v1 M497.37 121.1v1 M498.16 121.1v1 M498.85 121.1v1 M499.46 121.1v1.8 M503.52 121.1v1 M505.9 121.1v1 M507.58 121.1v1 M508.89 121.1v1 M509.96 121.1v1 M510.86 121.1v1 M511.64 121.1v1 M512.33 121.1v1 M512.95 121.1v1.8" stroke="#1a1a1a" stroke-width="0.6"/>
<text x="456.3" y="129" class="t">10<tspan class="sp" dy="-3.0">0</tspan></text>
<text x="469.54" y="129" class="t">10<tspan class="sp" dy="-3.0">1</tspan></text>
<text x="482.78" y="129" class="t">10<tspan class="sp" dy="-3.0">2</tspan></text>
<text x="496.01" y="129" class="t">10<tspan class="sp" dy="-3.0">3</tspan></text>
<text x="509.25" y="129" class="t">10<tspan class="sp" dy="-3.0">4</tspan></text>
<polygon points="45.94,190.4 45.94,190.4 45.94,183.58 46.94,183.58 46.94,190.4 47.86,186.79 48.78,183.58 49.76,178.38 50.73,173.82 51.71,167.72 52.68,162.11 53.66,159.7 54.63,156.26 56,154.31 56.78,155.5 57.56,158.21 58.34,162.55 59.12,167.97 60.49,176.75 61.85,182.6 62.7,184.31 63.54,184.85 64.39,186.5 65.12,186.5 65.85,186.98 66.59,188.02 67.32,188.46 68.05,188.79 68.78,189.8 69.51,190.18 70.24,190.4 70.24,190.4" fill="#bebebe"/>
<polyline points="45.85,190.4 46.5,190.1 47.15,190.1 47.8,189.92 48.46,189.87 49.11,190.08 49.76,190.02 50.41,189.66 51.06,188.93 51.71,188.46 52.36,187.18 53.01,186.4 53.66,185.53 54.31,184.11 54.96,182.63 55.61,180.65 56.26,179.52 56.91,178.09 57.56,175.77 58.34,174.15 59.12,171.87 59.8,170.14 60.49,169.92 61.17,171.77 61.85,172.26 62.73,172.73 63.61,174.02 64.78,173.43 65.46,173.18 66.15,172.65 67.12,174.8 67.8,175.23 68.49,176.16 69.2,177.35 69.92,176.99 70.63,178.31 71.35,178.72 72.07,179.62 72.78,181.04 73.66,182.13 74.54,184.55 75.17,185.18 75.8,184.68 76.44,184.27 77.07,184.55 77.8,184.24 78.54,185.08 79.27,184.13 80,183.97 80.65,184.05 81.3,185.49 81.95,185.53 82.68,185.52 83.41,185.8 84.15,184.17 84.88,184.55 85.61,184.27 86.34,184.61 87.07,184.42 87.8,183.58 88.49,183.86 89.17,182.6 89.95,183.28 90.73,185.53 91.38,186.24 92.03,187.05 92.68,188.46 93.41,188.51 94.15,189.55 94.88,189.55 95.61,189.82 96.34,190.1 97.07,189.93 97.8,190.1 98.54,190.1" fill="none" stroke="#111" stroke-width="0.95" stroke-linejoin="round"/>
<line x1="45.2" y1="149.8" x2="45.2" y2="190.4" stroke="#1a1a1a" stroke-width="1.15"/>
<path d="M43.7 149.8h1.5 M43.7 152.34h1.5 M43.7 154.88h1.5 M43.7 157.41h1.5 M43.7 159.95h1.5 M43.7 162.49h1.5 M43.7 165.03h1.5 M43.7 167.56h1.5 M43.7 170.1h1.5 M43.7 172.64h1.5 M43.7 175.18h1.5 M43.7 177.71h1.5 M43.7 180.25h1.5 M43.7 182.79h1.5 M43.7 185.32h1.5 M43.7 187.86h1.5 M43.7 190.4h1.5" stroke="#1a1a1a" stroke-width="0.75"/>
<line x1="45.2" y1="190.4" x2="98.85" y2="190.4" stroke="#1a1a1a" stroke-width="1.2"/>
<path d="M45.2 190.4v1.8 M49.24 190.4v1 M51.6 190.4v1 M53.28 190.4v1 M54.57 190.4v1 M55.64 190.4v1 M56.53 190.4v1 M57.31 190.4v1 M58 190.4v1 M58.61 190.4v1.8 M62.65 190.4v1 M65.01 190.4v1 M66.69 190.4v1 M67.99 190.4v1 M69.05 190.4v1 M69.95 190.4v1 M70.73 190.4v1 M71.41 190.4v1 M72.03 190.4v1.8 M76.06 190.4v1 M78.42 190.4v1 M80.1 190.4v1 M81.4 190.4v1 M82.46 190.4v1 M83.36 190.4v1 M84.14 190.4v1 M84.82 190.4v1 M85.44 190.4v1.8 M89.48 190.4v1 M91.84 190.4v1 M93.51 190.4v1 M94.81 190.4v1 M95.87 190.4v1 M96.77 190.4v1 M97.55 190.4v1 M98.24 190.4v1 M98.85 190.4v1.8" stroke="#1a1a1a" stroke-width="0.6"/>
<text x="42.5" y="198.3" class="t">10<tspan class="sp" dy="-3.0">0</tspan></text>
<text x="55.66" y="198.3" class="t">10<tspan class="sp" dy="-3.0">1</tspan></text>
<text x="68.83" y="198.3" class="t">10<tspan class="sp" dy="-3.0">2</tspan></text>
<text x="81.99" y="198.3" class="t">10<tspan class="sp" dy="-3.0">3</tspan></text>
<text x="95.15" y="198.3" class="t">10<tspan class="sp" dy="-3.0">4</tspan></text>
<polygon points="129.94,190.3 129.94,190.3 129.94,176.65 130.94,176.65 130.94,190.3 131.86,186.34 132.78,182.5 133.76,176.7 134.73,171.77 136.1,162.01 136.88,160.08 137.66,157.14 138.44,156.48 139.22,154.21 140.39,155.77 141.37,156.55 142.34,158.11 143.32,160.06 144.49,167.09 145.46,173.92 146.44,178.6 147.61,182.5 148.98,185.43 149.76,185.93 150.54,187.48 151.32,188.36 152.1,188.85 152.88,188.91 153.66,189.42 154.44,189.66 155.22,190.3 155.22,190.3" fill="#bebebe"/>
<polyline points="129.85,190.3 130.47,190 131.09,190 131.7,190 132.32,190 132.93,190 133.55,189.85 134.17,190 134.78,190 135.4,189.9 136.02,189.97 136.63,189.87 137.25,190 137.86,190 138.48,189.71 139.1,189.72 139.71,189.9 140.33,189.99 140.94,190 141.56,189.92 142.21,189.07 142.86,188.58 143.51,188.36 144.16,187.6 144.81,186.29 145.46,185.43 146.11,184.44 146.76,183.81 147.41,183.48 148.07,183.69 148.72,181.8 149.37,181.53 150.02,180.68 150.67,179.29 151.32,178.6 152.1,176.97 152.88,175.67 153.56,175.43 154.24,173.72 154.93,174.23 155.61,172.75 156.39,172.47 157.17,172.75 157.95,171.17 158.73,170.8 159.41,170.28 160.1,168.84 160.78,169.23 161.46,170.8 162.24,170.29 163.02,171.77 164,170.8 164.68,172.57 165.37,172.75 166.54,176.65 167.22,179.42 167.9,182.5 168.59,184.97 169.27,186.4 170.05,187.57 170.83,188.94 171.48,189.4 172.13,189.17 172.78,189.06 173.43,189.08 174.08,189.63 174.73,189.72 175.33,189.86 175.93,190 176.53,189.51 177.13,189.93 177.73,189.78 178.33,189.91 178.93,189.68 179.53,189.81 180.14,190 180.74,190 181.34,189.78 181.94,190 182.54,190" fill="none" stroke="#111" stroke-width="0.95" stroke-linejoin="round"/>
<line x1="128.9" y1="149.7" x2="128.9" y2="190.3" stroke="#1a1a1a" stroke-width="1.15"/>
<path d="M127.4 149.7h1.5 M127.4 152.24h1.5 M127.4 154.78h1.5 M127.4 157.31h1.5 M127.4 159.85h1.5 M127.4 162.39h1.5 M127.4 164.93h1.5 M127.4 167.46h1.5 M127.4 170h1.5 M127.4 172.54h1.5 M127.4 175.08h1.5 M127.4 177.61h1.5 M127.4 180.15h1.5 M127.4 182.69h1.5 M127.4 185.23h1.5 M127.4 187.76h1.5 M127.4 190.3h1.5" stroke="#1a1a1a" stroke-width="0.75"/>
<line x1="128.9" y1="190.3" x2="183" y2="190.3" stroke="#1a1a1a" stroke-width="1.2"/>
<path d="M128.9 190.3v1.8 M132.97 190.3v1 M135.35 190.3v1 M137.04 190.3v1 M138.35 190.3v1 M139.42 190.3v1 M140.33 190.3v1 M141.11 190.3v1 M141.81 190.3v1 M142.43 190.3v1.8 M146.5 190.3v1 M148.88 190.3v1 M150.57 190.3v1 M151.88 190.3v1 M152.95 190.3v1 M153.85 190.3v1 M154.64 190.3v1 M155.33 190.3v1 M155.95 190.3v1.8 M160.02 190.3v1 M162.4 190.3v1 M164.09 190.3v1 M165.4 190.3v1 M166.47 190.3v1 M167.38 190.3v1 M168.16 190.3v1 M168.86 190.3v1 M169.47 190.3v1.8 M173.55 190.3v1 M175.93 190.3v1 M177.62 190.3v1 M178.93 190.3v1 M180 190.3v1 M180.9 190.3v1 M181.69 190.3v1 M182.38 190.3v1 M183 190.3v1.8" stroke="#1a1a1a" stroke-width="0.6"/>
<text x="126.2" y="198.2" class="t">10<tspan class="sp" dy="-3.0">0</tspan></text>
<text x="139.47" y="198.2" class="t">10<tspan class="sp" dy="-3.0">1</tspan></text>
<text x="152.75" y="198.2" class="t">10<tspan class="sp" dy="-3.0">2</tspan></text>
<text x="166.03" y="198.2" class="t">10<tspan class="sp" dy="-3.0">3</tspan></text>
<text x="179.3" y="198.2" class="t">10<tspan class="sp" dy="-3.0">4</tspan></text>
<polygon points="211.94,190.3 211.94,190.3 211.94,177.62 212.94,177.62 212.94,190.3 213.86,185.38 214.78,179.58 215.76,175.54 216.73,169.82 218.1,162.01 218.88,159.52 219.66,158.11 220.44,155.98 221.22,155.19 222.39,157.14 223.37,159.09 224.15,160.45 225.32,166.89 226.68,173.92 227.85,178.6 228.63,181.06 229.41,181.92 230.39,184.45 231.37,185.43 232.1,186.14 232.83,186.38 233.56,188.06 234.29,188.36 235.02,188.75 235.76,189.64 236.49,189.9 237.22,190.3 237.22,190.3" fill="#bebebe"/>
<polyline points="211.85,190.3 212.59,190 213.32,189.88 214.05,190 214.78,189.92 215.43,188.83 216.08,188.13 216.73,187.38 217.38,186.85 218.03,185.91 218.68,184.45 219.33,182.57 219.98,181.29 220.63,180.55 221.28,179.05 221.93,177.99 222.59,176.65 223.24,175.44 223.89,173.94 224.54,173.72 225.19,172.57 225.84,172.87 226.49,171.77 227.17,171.59 227.85,169.82 228.63,169.88 229.41,171.77 230.2,173.36 230.98,174.7 231.66,174.72 232.34,173.72 233.02,173.29 233.71,174.7 234.49,176.35 235.27,176.65 236.05,177.35 236.83,179.58 237.51,180.75 238.2,181.53 238.85,181.95 239.5,182.43 240.15,182.5 240.8,182.8 241.45,183.66 242.1,184.45 242.75,184.91 243.4,184.99 244.05,185.43 244.7,185.66 245.35,185.35 246,185.43 246.65,186 247.3,186.14 247.95,187.38 248.6,188.03 249.25,188.41 249.9,188.94 250.63,188.91 251.37,189.55 252.1,189.74 252.83,189.72 253.45,189.71 254.06,189.53 254.68,189.76 255.29,189.52 255.91,189.55 256.53,189.79 257.14,189.57 257.76,189.84 258.37,189.91 258.99,189.6 259.61,190 260.22,189.67 260.84,190 261.46,190 262.07,190 262.69,189.74 263.3,190 263.92,190 264.54,190" fill="none" stroke="#111" stroke-width="0.95" stroke-linejoin="round"/>
<line x1="210.7" y1="149.7" x2="210.7" y2="190.3" stroke="#1a1a1a" stroke-width="1.15"/>
<path d="M209.2 149.7h1.5 M209.2 152.24h1.5 M209.2 154.78h1.5 M209.2 157.31h1.5 M209.2 159.85h1.5 M209.2 162.39h1.5 M209.2 164.93h1.5 M209.2 167.46h1.5 M209.2 170h1.5 M209.2 172.54h1.5 M209.2 175.08h1.5 M209.2 177.61h1.5 M209.2 180.15h1.5 M209.2 182.69h1.5 M209.2 185.23h1.5 M209.2 187.76h1.5 M209.2 190.3h1.5" stroke="#1a1a1a" stroke-width="0.75"/>
<line x1="210.7" y1="190.3" x2="264.9" y2="190.3" stroke="#1a1a1a" stroke-width="1.2"/>
<path d="M210.7 190.3v1.8 M214.78 190.3v1 M217.16 190.3v1 M218.86 190.3v1 M220.17 190.3v1 M221.24 190.3v1 M222.15 190.3v1 M222.94 190.3v1 M223.63 190.3v1 M224.25 190.3v1.8 M228.33 190.3v1 M230.71 190.3v1 M232.41 190.3v1 M233.72 190.3v1 M234.79 190.3v1 M235.7 190.3v1 M236.49 190.3v1 M237.18 190.3v1 M237.8 190.3v1.8 M241.88 190.3v1 M244.26 190.3v1 M245.96 190.3v1 M247.27 190.3v1 M248.34 190.3v1 M249.25 190.3v1 M250.04 190.3v1 M250.73 190.3v1 M251.35 190.3v1.8 M255.43 190.3v1 M257.81 190.3v1 M259.51 190.3v1 M260.82 190.3v1 M261.89 190.3v1 M262.8 190.3v1 M263.59 190.3v1 M264.28 190.3v1 M264.9 190.3v1.8" stroke="#1a1a1a" stroke-width="0.6"/>
<text x="208" y="198.2" class="t">10<tspan class="sp" dy="-3.0">0</tspan></text>
<text x="221.3" y="198.2" class="t">10<tspan class="sp" dy="-3.0">1</tspan></text>
<text x="234.6" y="198.2" class="t">10<tspan class="sp" dy="-3.0">2</tspan></text>
<text x="247.9" y="198.2" class="t">10<tspan class="sp" dy="-3.0">3</tspan></text>
<text x="261.2" y="198.2" class="t">10<tspan class="sp" dy="-3.0">4</tspan></text>
<polygon points="298.59,189.5 298.59,189.5 299.95,186.2 300.83,183.53 301.71,179.38 302.49,173.84 303.27,169.62 304.24,161.81 305.41,156.94 306.59,153.62 307.37,152.06 308.15,149.13 308.93,153.03 309.9,159.86 311.07,169.62 312.24,177.42 313.41,182.3 314.2,184.3 314.98,185.23 315.76,186.46 316.54,186.78 317.32,187.18 318.03,187.54 318.74,186.99 319.45,187.8 320.16,187.39 320.86,187.87 321.57,187.89 322.28,187.24 322.99,187.87 323.7,188.05 324.41,187.32 325.12,187.77 326.1,188.52 327.07,189.5 327.07,189.5" fill="#bebebe"/>
<polyline points="295.85,189.5 296.46,189.2 297.07,189.2 297.67,189.2 298.28,189.2 298.89,189.2 299.5,189.2 300.1,189.2 300.71,189.2 301.32,189.2 301.92,189.2 302.53,189.2 303.14,189.2 303.75,189.11 304.35,189.2 304.96,189.18 305.57,189.2 306.17,189.2 306.78,189.2 307.39,189.16 307.99,189.2 308.6,189.11 309.21,189.2 309.82,189.2 310.42,189.2 311.03,189.2 311.64,189.2 312.24,189.2 313.02,188.68 313.8,188.25 314.59,187.18 315.24,185.73 315.89,185.9 316.54,184.25 317.19,182.92 317.84,180.92 318.49,179.57 319.14,179.13 319.79,177.02 320.44,176.45 321.22,176.16 322,173.91 322.78,172.41 323.56,170.6 324.73,167.67 325.41,168.36 326.1,169.62 326.78,168.69 327.46,166.69 328.24,166.09 329.02,165.72 329.8,163.61 330.59,162.79 331.27,165.23 331.95,166.69 332.6,167.42 333.25,170.58 333.9,171.57 334.55,172.7 335.2,175.1 335.85,176.45 336.5,179.04 337.15,179.87 337.8,181.33 338.46,182.92 339.11,183.63 339.76,185.23 340.41,185.61 341.06,186.7 341.71,188.16 342.44,188.06 343.17,188.64 343.9,188.69 344.63,188.94 345.28,189.01 345.93,189.2 346.59,188.87 347.24,189.01 347.89,189.2 348.54,189.2" fill="none" stroke="#111" stroke-width="0.95" stroke-linejoin="round"/>
<line x1="294.5" y1="148.2" x2="294.5" y2="189.5" stroke="#1a1a1a" stroke-width="1.15"/>
<path d="M293 148.2h1.5 M293 150.78h1.5 M293 153.36h1.5 M293 155.94h1.5 M293 158.53h1.5 M293 161.11h1.5 M293 163.69h1.5 M293 166.27h1.5 M293 168.85h1.5 M293 171.43h1.5 M293 174.01h1.5 M293 176.59h1.5 M293 179.18h1.5 M293 181.76h1.5 M293 184.34h1.5 M293 186.92h1.5 M293 189.5h1.5" stroke="#1a1a1a" stroke-width="0.75"/>
<line x1="294.5" y1="189.5" x2="349.6" y2="189.5" stroke="#1a1a1a" stroke-width="1.2"/>
<path d="M294.5 189.5v1.8 M298.65 189.5v1 M301.07 189.5v1 M302.79 189.5v1 M304.13 189.5v1 M305.22 189.5v1 M306.14 189.5v1 M306.94 189.5v1 M307.64 189.5v1 M308.27 189.5v1.8 M312.42 189.5v1 M314.85 189.5v1 M316.57 189.5v1 M317.9 189.5v1 M318.99 189.5v1 M319.92 189.5v1 M320.72 189.5v1 M321.42 189.5v1 M322.05 189.5v1.8 M326.2 189.5v1 M328.62 189.5v1 M330.34 189.5v1 M331.68 189.5v1 M332.77 189.5v1 M333.69 189.5v1 M334.49 189.5v1 M335.19 189.5v1 M335.83 189.5v1.8 M339.97 189.5v1 M342.4 189.5v1 M344.12 189.5v1 M345.45 189.5v1 M346.54 189.5v1 M347.47 189.5v1 M348.27 189.5v1 M348.97 189.5v1 M349.6 189.5v1.8" stroke="#1a1a1a" stroke-width="0.6"/>
<text x="291.8" y="197.4" class="t">10<tspan class="sp" dy="-3.0">0</tspan></text>
<text x="305.33" y="197.4" class="t">10<tspan class="sp" dy="-3.0">1</tspan></text>
<text x="318.85" y="197.4" class="t">10<tspan class="sp" dy="-3.0">2</tspan></text>
<text x="332.38" y="197.4" class="t">10<tspan class="sp" dy="-3.0">3</tspan></text>
<text x="345.9" y="197.4" class="t">10<tspan class="sp" dy="-3.0">4</tspan></text>
<polygon points="376.91,189.5 376.91,189.5 376.91,182.3 377.91,182.3 377.91,189.5 378.64,185.34 379.37,182.3 380.73,173.52 381.71,167.75 382.68,163.77 383.66,160.58 384.63,157.91 386,155.96 387.17,154.01 388.54,156.94 389.9,163.77 390.68,166.96 391.46,171.57 392.24,174.24 393.02,177.42 394.39,182.3 395.37,183.86 396.34,186.2 397.07,186.78 397.8,187.27 398.54,187.4 399.27,188.16 400.24,188.92 401.22,189.5 401.22,189.5" fill="#bebebe"/>
<polyline points="375.9,189.5 376.51,189.2 377.12,189.2 377.74,189.2 378.35,189.2 378.96,189.2 379.57,189.17 380.18,189.2 380.8,189.2 381.41,189.2 382.02,189.2 382.63,189.2 383.24,189.05 383.85,189.2 384.47,189.2 385.08,189.2 385.69,189.2 386.3,189.2 386.91,189.2 387.53,189.2 388.14,189.12 388.75,189.2 389.36,188.95 389.97,189.2 390.59,189.18 391.2,189.05 391.81,188.92 392.42,189.2 393.03,188.86 393.65,189.2 394.26,189.2 394.87,188.92 395.48,188.95 396.09,189.2 396.71,189.15 397.32,189.13 397.97,189.17 398.62,189.2 399.27,188.69 399.92,188.73 400.57,188.65 401.22,188.74 401.87,188.43 402.52,189.1 403.17,189.05 403.82,189.03 404.47,188.53 405.12,188.94 405.77,188.64 406.42,188 407.07,187.18 407.72,186.16 408.37,185.56 409.02,184.25 409.8,180.74 410.59,177.42 411.27,172 411.95,167.67 412.63,163.46 413.32,160.84 414.49,156.94 415.17,157.86 415.85,159.86 416.54,160.4 417.22,162.79 418.39,164.74 419.07,164.9 419.76,165.72 420.44,169.63 421.12,172.55 422.29,179.38 422.98,182.19 423.66,184.25 424.31,185.7 424.96,186.46 425.61,187.18 426.26,187.28 426.91,187.88 427.56,188.16 428.21,188.3 428.86,188.78 429.51,188.74" fill="none" stroke="#111" stroke-width="0.95" stroke-linejoin="round"/>
<line x1="375.9" y1="148.2" x2="375.9" y2="189.5" stroke="#1a1a1a" stroke-width="1.15"/>
<path d="M374.4 148.2h1.5 M374.4 150.78h1.5 M374.4 153.36h1.5 M374.4 155.94h1.5 M374.4 158.53h1.5 M374.4 161.11h1.5 M374.4 163.69h1.5 M374.4 166.27h1.5 M374.4 168.85h1.5 M374.4 171.43h1.5 M374.4 174.01h1.5 M374.4 176.59h1.5 M374.4 179.18h1.5 M374.4 181.76h1.5 M374.4 184.34h1.5 M374.4 186.92h1.5 M374.4 189.5h1.5" stroke="#1a1a1a" stroke-width="0.75"/>
<line x1="375.9" y1="189.5" x2="430.9" y2="189.5" stroke="#1a1a1a" stroke-width="1.2"/>
<path d="M375.9 189.5v1.8 M380.04 189.5v1 M382.46 189.5v1 M384.18 189.5v1 M385.51 189.5v1 M386.6 189.5v1 M387.52 189.5v1 M388.32 189.5v1 M389.02 189.5v1 M389.65 189.5v1.8 M393.79 189.5v1 M396.21 189.5v1 M397.93 189.5v1 M399.26 189.5v1 M400.35 189.5v1 M401.27 189.5v1 M402.07 189.5v1 M402.77 189.5v1 M403.4 189.5v1.8 M407.54 189.5v1 M409.96 189.5v1 M411.68 189.5v1 M413.01 189.5v1 M414.1 189.5v1 M415.02 189.5v1 M415.82 189.5v1 M416.52 189.5v1 M417.15 189.5v1.8 M421.29 189.5v1 M423.71 189.5v1 M425.43 189.5v1 M426.76 189.5v1 M427.85 189.5v1 M428.77 189.5v1 M429.57 189.5v1 M430.27 189.5v1 M430.9 189.5v1.8" stroke="#1a1a1a" stroke-width="0.6"/>
<text x="373.2" y="197.4" class="t">10<tspan class="sp" dy="-3.0">0</tspan></text>
<text x="386.7" y="197.4" class="t">10<tspan class="sp" dy="-3.0">1</tspan></text>
<text x="400.2" y="197.4" class="t">10<tspan class="sp" dy="-3.0">2</tspan></text>
<text x="413.7" y="197.4" class="t">10<tspan class="sp" dy="-3.0">3</tspan></text>
<text x="427.2" y="197.4" class="t">10<tspan class="sp" dy="-3.0">4</tspan></text>
<polygon points="460.24,189.5 460.24,189.5 461.41,187.18 462.39,185.26 463.37,183.28 464.34,178.95 465.32,175.47 466.1,172.15 466.88,169.16 467.66,164.74 468.37,162.28 469.09,161.52 469.8,158.89 470.78,155.58 471.76,154.01 473.12,149.13 474.29,152.45 475.07,157.91 476.24,165.72 477.61,175.47 478.78,182.3 479.56,183.91 480.34,186.2 481.1,186.07 481.86,186.77 482.62,187.13 483.38,187.07 484.14,186.79 484.89,187.49 485.65,187.1 486.41,187.17 487.17,187.57 487.9,188.01 488.63,187.83 489.37,187.96 490.1,188.01 490.83,188.35 491.56,187.98 492.29,188.37 493.02,188.16 494,188.97 494.98,189.5 494.98,189.5" fill="#bebebe"/>
<polyline points="459.85,189.5 460.47,189.2 461.08,189.2 461.7,189.2 462.31,189.2 462.93,189.2 463.54,189.2 464.15,189.2 464.77,189.17 465.38,189.2 466,189.2 466.61,189.12 467.22,189.16 467.84,189.2 468.45,189.2 469.07,189.17 469.68,189.08 470.3,189.08 470.91,189.2 471.52,189.2 472.14,189.2 472.75,189.2 473.37,189.07 473.98,189.2 474.6,189.2 475.21,189.2 475.82,189.2 476.44,189.2 477.07,189.2 477.71,188.51 478.34,188.89 478.98,188.35 479.76,188.22 480.54,187.76 481.32,186.79 482.1,185.53 482.88,185.23 483.53,183.4 484.18,181.79 484.83,181.13 485.51,178.44 486.2,177.62 486.98,177.24 487.76,175.47 488.41,174.93 489.06,173.4 489.71,171.96 490.39,170.46 491.07,167.67 492.24,160.84 492.93,158.18 493.61,154.99 494.29,151.83 494.98,149.52 496.15,154.01 497.12,161.81 497.8,165.7 498.49,171.18 499.66,178.4 500.34,180.03 501.02,183.28 501.74,184.83 502.46,185.24 503.17,186.79 503.82,187.13 504.47,187.76 505.12,188.35 505.74,188.02 506.36,188.28 506.98,188.37 507.59,188.78 508.21,188.57 508.83,188.6 509.45,189.16 510.07,188.87 510.68,189.2 511.3,189.09 511.92,188.73 512.54,189.13" fill="none" stroke="#111" stroke-width="0.95" stroke-linejoin="round"/>
<line x1="459.6" y1="148.2" x2="459.6" y2="189.5" stroke="#1a1a1a" stroke-width="1.15"/>
<path d="M458.1 148.2h1.5 M458.1 150.78h1.5 M458.1 153.36h1.5 M458.1 155.94h1.5 M458.1 158.53h1.5 M458.1 161.11h1.5 M458.1 163.69h1.5 M458.1 166.27h1.5 M458.1 168.85h1.5 M458.1 171.43h1.5 M458.1 174.01h1.5 M458.1 176.59h1.5 M458.1 179.18h1.5 M458.1 181.76h1.5 M458.1 184.34h1.5 M458.1 186.92h1.5 M458.1 189.5h1.5" stroke="#1a1a1a" stroke-width="0.75"/>
<line x1="459.6" y1="189.5" x2="513.85" y2="189.5" stroke="#1a1a1a" stroke-width="1.2"/>
<path d="M459.6 189.5v1.8 M463.68 189.5v1 M466.07 189.5v1 M467.77 189.5v1 M469.08 189.5v1 M470.15 189.5v1 M471.06 189.5v1 M471.85 189.5v1 M472.54 189.5v1 M473.16 189.5v1.8 M477.25 189.5v1 M479.63 189.5v1 M481.33 189.5v1 M482.64 189.5v1 M483.72 189.5v1 M484.62 189.5v1 M485.41 189.5v1 M486.1 189.5v1 M486.73 189.5v1.8 M490.81 189.5v1 M493.2 189.5v1 M494.89 189.5v1 M496.2 189.5v1 M497.28 189.5v1 M498.19 189.5v1 M498.97 189.5v1 M499.67 189.5v1 M500.29 189.5v1.8 M504.37 189.5v1 M506.76 189.5v1 M508.45 189.5v1 M509.77 189.5v1 M510.84 189.5v1 M511.75 189.5v1 M512.54 189.5v1 M513.23 189.5v1 M513.85 189.5v1.8" stroke="#1a1a1a" stroke-width="0.6"/>
<text x="456.9" y="197.4" class="t">10<tspan class="sp" dy="-3.0">0</tspan></text>
<text x="470.21" y="197.4" class="t">10<tspan class="sp" dy="-3.0">1</tspan></text>
<text x="483.53" y="197.4" class="t">10<tspan class="sp" dy="-3.0">2</tspan></text>
<text x="496.84" y="197.4" class="t">10<tspan class="sp" dy="-3.0">3</tspan></text>
<text x="510.15" y="197.4" class="t">10<tspan class="sp" dy="-3.0">4</tspan></text>
<polygon points="46.33,260.7 46.33,260.7 46.33,242.55 47.33,242.55 47.33,260.7 48.05,256.89 48.78,253.28 49.76,248.29 50.73,243.52 52.1,237.67 52.88,236.7 53.66,234.74 54.44,233 55.22,231.81 56.2,232.6 57.17,231.81 58.15,235.72 59.51,241.57 60.29,244.87 61.07,247.42 62.05,249.44 63.02,251.33 64,252.28 64.98,254.25 65.76,255.75 66.54,255.67 67.32,257.18 68.05,258.11 68.78,258.03 69.51,258.49 70.24,259.52 71.22,259.89 72.2,260.69 72.2,260.7" fill="#bebebe"/>
<polyline points="45.85,260.69 46.5,260.4 47.15,260.4 47.8,260.16 48.46,260.4 49.11,260.36 49.76,260.3 50.41,260.14 51.06,259.25 51.71,259.13 52.36,258.15 53.01,256.99 53.66,256.2 54.31,255.13 54.96,252.49 55.61,251.33 56.26,250.91 56.91,248.29 57.56,247.42 58.34,245.39 59.12,244.5 60.1,242.55 60.78,244.9 61.46,246.45 62.24,246.45 63.02,246.45 63.71,246.16 64.39,247.42 65.37,249.38 66.15,248.67 66.93,247.42 67.61,247.07 68.29,248.4 68.98,249.46 69.66,249.38 70.44,250.75 71.22,251.33 71.87,251.58 72.52,250.93 73.17,250.35 73.82,250.71 74.47,251.45 75.12,252.3 75.85,252.34 76.59,253.56 77.32,252.24 78.05,253.28 78.78,254.47 79.51,253.43 80.24,254.26 80.98,255.23 81.71,254.86 82.44,255.86 83.17,255.23 83.9,255.23 84.63,255.29 85.37,256.29 86.1,255.58 86.83,256.2 87.56,255.9 88.29,255.76 89.02,255.86 89.76,255.23 90.41,255.31 91.06,254.82 91.71,254.25 92.68,256.2 93.33,256.66 93.98,257.3 94.63,258.16 95.37,258.15 96.1,259.17 96.83,259.33 97.56,259.52 98.21,259.98 98.86,259.79 99.51,260.3" fill="none" stroke="#111" stroke-width="0.95" stroke-linejoin="round"/>
<line x1="45.1" y1="220.1" x2="45.1" y2="260.7" stroke="#1a1a1a" stroke-width="1.15"/>
<path d="M43.6 220.1h1.5 M43.6 222.64h1.5 M43.6 225.17h1.5 M43.6 227.71h1.5 M43.6 230.25h1.5 M43.6 232.79h1.5 M43.6 235.32h1.5 M43.6 237.86h1.5 M43.6 240.4h1.5 M43.6 242.94h1.5 M43.6 245.47h1.5 M43.6 248.01h1.5 M43.6 250.55h1.5 M43.6 253.09h1.5 M43.6 255.62h1.5 M43.6 258.16h1.5 M43.6 260.7h1.5" stroke="#1a1a1a" stroke-width="0.75"/>
<line x1="45.1" y1="260.7" x2="99.4" y2="260.7" stroke="#1a1a1a" stroke-width="1.2"/>
<path d="M45.1 260.7v1.8 M49.19 260.7v1 M51.58 260.7v1 M53.27 260.7v1 M54.59 260.7v1 M55.66 260.7v1 M56.57 260.7v1 M57.36 260.7v1 M58.05 260.7v1 M58.68 260.7v1.8 M62.76 260.7v1 M65.15 260.7v1 M66.85 260.7v1 M68.16 260.7v1 M69.24 260.7v1 M70.15 260.7v1 M70.93 260.7v1 M71.63 260.7v1 M72.25 260.7v1.8 M76.34 260.7v1 M78.73 260.7v1 M80.42 260.7v1 M81.74 260.7v1 M82.81 260.7v1 M83.72 260.7v1 M84.51 260.7v1 M85.2 260.7v1 M85.83 260.7v1.8 M89.91 260.7v1 M92.3 260.7v1 M94 260.7v1 M95.31 260.7v1 M96.39 260.7v1 M97.3 260.7v1 M98.08 260.7v1 M98.78 260.7v1 M99.4 260.7v1.8" stroke="#1a1a1a" stroke-width="0.6"/>
<text x="42.4" y="268.6" class="t">10<tspan class="sp" dy="-3.0">0</tspan></text>
<text x="55.73" y="268.6" class="t">10<tspan class="sp" dy="-3.0">1</tspan></text>
<text x="69.05" y="268.6" class="t">10<tspan class="sp" dy="-3.0">2</tspan></text>
<text x="82.38" y="268.6" class="t">10<tspan class="sp" dy="-3.0">3</tspan></text>
<text x="95.7" y="268.6" class="t">10<tspan class="sp" dy="-3.0">4</tspan></text>
<polygon points="128.96,260.7 128.96,260.7 128.96,249.38 129.96,249.38 129.96,260.7 130.44,257.18 131.22,252.5 132.2,248.4 133.37,243.91 134.34,240.6 135.32,237.08 136.49,233.77 137.46,232.2 138.24,231.42 139.02,232.01 139.61,231.42 140.39,233.77 141.76,237.08 142.73,240.6 143.71,243.91 145.07,248.4 145.85,250.34 146.63,252.5 147.51,254.32 148.39,255.23 149.37,256.31 150.34,257.18 151.07,257.37 151.8,258.31 152.54,259.28 153.27,259.52 154.24,259.92 155.22,260.69 155.22,260.7" fill="#bebebe"/>
<polyline points="128.88,260.69 129.49,260.4 130.1,260.4 130.71,260.4 131.32,260.4 131.93,260.21 132.54,260.16 133.15,260.17 133.76,260.3 134.41,259.78 135.06,259.54 135.71,259.13 136.44,258.31 137.17,257.97 137.9,257.31 138.63,257.18 139.37,257.09 140.1,256.06 140.83,254.35 141.56,254.25 142.21,254.45 142.86,252.18 143.51,252.3 144.16,251.42 144.81,251.97 145.46,250.35 146.11,250.62 146.76,250.17 147.41,249.38 148.07,248.6 148.72,247.47 149.37,247.42 150.02,247.05 150.67,245.34 151.32,245.47 152.1,244.4 152.88,244.5 153.56,243.3 154.24,242.55 154.93,243.08 155.61,245.47 156.39,246.25 157.17,247.42 157.95,248.49 158.73,248.4 159.41,249.27 160.1,249.38 160.75,250.03 161.4,250.94 162.05,251.33 162.7,251.9 163.35,251.91 164,253.28 164.65,254.11 165.3,254.42 165.95,255.23 166.6,256.23 167.25,257.08 167.9,257.18 168.55,257.62 169.2,258.3 169.85,258.74 170.5,259.23 171.15,259.19 171.8,259.52 172.41,259.34 173.02,259.8 173.63,259.98 174.24,259.94 174.85,259.93 175.46,260.1 176.07,260.01 176.68,259.91 177.33,260.07 177.98,259.96 178.63,259.9 179.28,260.18 179.93,259.83 180.59,260.11 181.24,260.4 181.89,260.4 182.54,260.3" fill="none" stroke="#111" stroke-width="0.95" stroke-linejoin="round"/>
<line x1="128.3" y1="220.1" x2="128.3" y2="260.7" stroke="#1a1a1a" stroke-width="1.15"/>
<path d="M126.8 220.1h1.5 M126.8 222.64h1.5 M126.8 225.17h1.5 M126.8 227.71h1.5 M126.8 230.25h1.5 M126.8 232.79h1.5 M126.8 235.32h1.5 M126.8 237.86h1.5 M126.8 240.4h1.5 M126.8 242.94h1.5 M126.8 245.47h1.5 M126.8 248.01h1.5 M126.8 250.55h1.5 M126.8 253.09h1.5 M126.8 255.62h1.5 M126.8 258.16h1.5 M126.8 260.7h1.5" stroke="#1a1a1a" stroke-width="0.75"/>
<line x1="128.3" y1="260.7" x2="182.5" y2="260.7" stroke="#1a1a1a" stroke-width="1.2"/>
<path d="M128.3 260.7v1.8 M132.38 260.7v1 M134.76 260.7v1 M136.46 260.7v1 M137.77 260.7v1 M138.84 260.7v1 M139.75 260.7v1 M140.54 260.7v1 M141.23 260.7v1 M141.85 260.7v1.8 M145.93 260.7v1 M148.31 260.7v1 M150.01 260.7v1 M151.32 260.7v1 M152.39 260.7v1 M153.3 260.7v1 M154.09 260.7v1 M154.78 260.7v1 M155.4 260.7v1.8 M159.48 260.7v1 M161.86 260.7v1 M163.56 260.7v1 M164.87 260.7v1 M165.94 260.7v1 M166.85 260.7v1 M167.64 260.7v1 M168.33 260.7v1 M168.95 260.7v1.8 M173.03 260.7v1 M175.41 260.7v1 M177.11 260.7v1 M178.42 260.7v1 M179.49 260.7v1 M180.4 260.7v1 M181.19 260.7v1 M181.88 260.7v1 M182.5 260.7v1.8" stroke="#1a1a1a" stroke-width="0.6"/>
<text x="125.6" y="268.6" class="t">10<tspan class="sp" dy="-3.0">0</tspan></text>
<text x="138.9" y="268.6" class="t">10<tspan class="sp" dy="-3.0">1</tspan></text>
<text x="152.2" y="268.6" class="t">10<tspan class="sp" dy="-3.0">2</tspan></text>
<text x="165.5" y="268.6" class="t">10<tspan class="sp" dy="-3.0">3</tspan></text>
<text x="178.8" y="268.6" class="t">10<tspan class="sp" dy="-3.0">4</tspan></text>
<polygon points="211.35,260.7 211.35,260.7 211.35,250.35 212.35,250.35 212.35,260.7 213.08,257.14 213.8,253.28 214.78,247.95 215.76,243.52 216.54,239.97 217.32,236.69 218.68,233.77 220.05,231.81 221.22,232.79 222.59,236.69 223.95,240.6 224.73,242.95 225.51,245.47 226.49,248.13 227.46,250.35 228.44,252.14 229.41,254.25 230.2,255.48 230.98,256.77 231.76,257.18 232.6,257.49 233.45,258.63 234.29,259.13 235.27,260.12 236.24,260.69 236.24,260.7" fill="#bebebe"/>
<polyline points="211.85,260.69 212.59,260.32 213.32,260.1 214.05,260.19 214.78,259.52 215.43,258.29 216.08,258.01 216.73,257.18 217.41,254.29 218.1,252.5 219.27,250.35 220.24,248.99 220.89,248.18 221.54,247.13 222.2,244.89 222.98,243.46 223.76,241.96 224.44,239.99 225.12,239.62 225.8,241.23 226.49,242.55 227.17,243.12 227.85,243.52 229.02,244.5 229.71,245.42 230.39,245.47 231.37,246.45 232.15,247.45 232.93,248.4 233.61,249.17 234.29,249.38 234.94,250.36 235.59,250.07 236.24,250.35 236.89,250.17 237.54,251.25 238.2,250.35 238.85,250.42 239.5,252.02 240.15,252.3 240.8,252.41 241.45,253.46 242.1,253.28 242.75,252.22 243.4,253.59 244.05,252.3 244.7,253.01 245.35,253.49 246,255.23 246.65,255.55 247.3,256.4 247.95,257.18 248.68,257.11 249.41,258.07 250.15,258.57 250.88,259.13 251.61,259.45 252.34,259.3 253.07,259.37 253.8,259.72 254.44,259.53 255.07,259.98 255.7,260.17 256.33,259.88 256.96,259.67 257.59,260.16 258.22,259.87 258.86,259.77 259.49,259.74 260.12,260.27 260.75,260.33 261.38,260.23 262.01,260.14 262.64,260.24 263.27,260.03 263.91,260.4 264.54,260.3" fill="none" stroke="#111" stroke-width="0.95" stroke-linejoin="round"/>
<line x1="210.3" y1="220.1" x2="210.3" y2="260.7" stroke="#1a1a1a" stroke-width="1.15"/>
<path d="M208.8 220.1h1.5 M208.8 222.64h1.5 M208.8 225.17h1.5 M208.8 227.71h1.5 M208.8 230.25h1.5 M208.8 232.79h1.5 M208.8 235.32h1.5 M208.8 237.86h1.5 M208.8 240.4h1.5 M208.8 242.94h1.5 M208.8 245.47h1.5 M208.8 248.01h1.5 M208.8 250.55h1.5 M208.8 253.09h1.5 M208.8 255.62h1.5 M208.8 258.16h1.5 M208.8 260.7h1.5" stroke="#1a1a1a" stroke-width="0.75"/>
<line x1="210.3" y1="260.7" x2="264.5" y2="260.7" stroke="#1a1a1a" stroke-width="1.2"/>
<path d="M210.3 260.7v1.8 M214.38 260.7v1 M216.76 260.7v1 M218.46 260.7v1 M219.77 260.7v1 M220.84 260.7v1 M221.75 260.7v1 M222.54 260.7v1 M223.23 260.7v1 M223.85 260.7v1.8 M227.93 260.7v1 M230.31 260.7v1 M232.01 260.7v1 M233.32 260.7v1 M234.39 260.7v1 M235.3 260.7v1 M236.09 260.7v1 M236.78 260.7v1 M237.4 260.7v1.8 M241.48 260.7v1 M243.86 260.7v1 M245.56 260.7v1 M246.87 260.7v1 M247.94 260.7v1 M248.85 260.7v1 M249.64 260.7v1 M250.33 260.7v1 M250.95 260.7v1.8 M255.03 260.7v1 M257.41 260.7v1 M259.11 260.7v1 M260.42 260.7v1 M261.49 260.7v1 M262.4 260.7v1 M263.19 260.7v1 M263.88 260.7v1 M264.5 260.7v1.8" stroke="#1a1a1a" stroke-width="0.6"/>
<text x="207.6" y="268.6" class="t">10<tspan class="sp" dy="-3.0">0</tspan></text>
<text x="220.9" y="268.6" class="t">10<tspan class="sp" dy="-3.0">1</tspan></text>
<text x="234.2" y="268.6" class="t">10<tspan class="sp" dy="-3.0">2</tspan></text>
<text x="247.5" y="268.6" class="t">10<tspan class="sp" dy="-3.0">3</tspan></text>
<text x="260.8" y="268.6" class="t">10<tspan class="sp" dy="-3.0">4</tspan></text>
<polygon points="295.85,257.9 295.85,257.86 296.83,253.95 297.8,252 298.59,248.49 299.76,244.2 300.73,240.1 301.71,235.42 302.49,233.08 303.46,229.56 304.44,226.05 305.22,223.71 306,222.54 306.98,224.1 307.95,220.78 308.73,217.66 309.32,221.76 310.1,226.05 311.07,233.08 312.05,240.1 312.83,244.2 313.61,248.49 314.98,252.98 316.34,254.34 317.32,254.47 318.29,254.93 319.27,254.89 320.24,254.54 320.98,255.09 321.71,255.27 322.44,255.09 323.17,255.32 324.15,256.42 325.12,257.86 325.12,257.9" fill="#bebebe"/>
<polyline points="295.85,257.86 296.46,257.6 297.06,257.57 297.67,257.6 298.27,257.6 298.87,257.6 299.48,257.59 300.08,257.6 300.69,257.54 301.29,257.6 301.89,257.45 302.5,257.31 303.1,257.6 303.7,257.46 304.31,257.42 304.91,257.44 305.52,257.54 306.12,257.49 306.72,257.6 307.33,257.6 307.93,257.39 308.54,257.47 309.19,257.47 309.84,257.11 310.49,256.49 311.14,255.26 311.79,255.3 312.44,254.15 313.09,253.82 313.74,252.78 314.39,251.42 315.04,249.28 315.69,249.22 316.34,247.12 317.06,246.22 317.77,243.81 318.49,243.61 319.17,240.88 319.85,240.1 320.83,238.34 321.61,239.32 322.39,239.74 323.17,238.34 323.95,238.17 324.73,237.37 325.41,237.84 326.1,239.32 326.78,237.55 327.46,237.37 328.24,236.17 329.02,236.39 329.8,236.84 330.59,238.34 331.27,239.87 331.95,240.3 332.63,240.96 333.32,242.25 334.1,242.04 334.88,243.22 335.66,243.54 336.44,242.25 337.12,244.29 337.8,245.17 338.49,245.97 339.17,248.1 339.95,250.35 340.73,251.03 341.51,252.66 342.29,253.95 342.94,254.94 343.59,255.44 344.24,255.9 345.02,256.6 345.8,256.81 346.59,256.88 347.24,257.28 347.89,256.91 348.54,257.27" fill="none" stroke="#111" stroke-width="0.95" stroke-linejoin="round"/>
<line x1="294.7" y1="216.9" x2="294.7" y2="257.9" stroke="#1a1a1a" stroke-width="1.15"/>
<path d="M293.2 216.9h1.5 M293.2 219.46h1.5 M293.2 222.02h1.5 M293.2 224.59h1.5 M293.2 227.15h1.5 M293.2 229.71h1.5 M293.2 232.27h1.5 M293.2 234.84h1.5 M293.2 237.4h1.5 M293.2 239.96h1.5 M293.2 242.52h1.5 M293.2 245.09h1.5 M293.2 247.65h1.5 M293.2 250.21h1.5 M293.2 252.77h1.5 M293.2 255.34h1.5 M293.2 257.9h1.5" stroke="#1a1a1a" stroke-width="0.75"/>
<line x1="294.7" y1="257.9" x2="349.7" y2="257.9" stroke="#1a1a1a" stroke-width="1.2"/>
<path d="M294.7 257.9v1.8 M298.84 257.9v1 M301.26 257.9v1 M302.98 257.9v1 M304.31 257.9v1 M305.4 257.9v1 M306.32 257.9v1 M307.12 257.9v1 M307.82 257.9v1 M308.45 257.9v1.8 M312.59 257.9v1 M315.01 257.9v1 M316.73 257.9v1 M318.06 257.9v1 M319.15 257.9v1 M320.07 257.9v1 M320.87 257.9v1 M321.57 257.9v1 M322.2 257.9v1.8 M326.34 257.9v1 M328.76 257.9v1 M330.48 257.9v1 M331.81 257.9v1 M332.9 257.9v1 M333.82 257.9v1 M334.62 257.9v1 M335.32 257.9v1 M335.95 257.9v1.8 M340.09 257.9v1 M342.51 257.9v1 M344.23 257.9v1 M345.56 257.9v1 M346.65 257.9v1 M347.57 257.9v1 M348.37 257.9v1 M349.07 257.9v1 M349.7 257.9v1.8" stroke="#1a1a1a" stroke-width="0.6"/>
<text x="292" y="265.8" class="t">10<tspan class="sp" dy="-3.0">0</tspan></text>
<text x="305.5" y="265.8" class="t">10<tspan class="sp" dy="-3.0">1</tspan></text>
<text x="319" y="265.8" class="t">10<tspan class="sp" dy="-3.0">2</tspan></text>
<text x="332.5" y="265.8" class="t">10<tspan class="sp" dy="-3.0">3</tspan></text>
<text x="346" y="265.8" class="t">10<tspan class="sp" dy="-3.0">4</tspan></text>
<polygon points="378.28,257.5 378.28,257.5 378.28,244.8 379.28,244.8 379.28,257.5 380.01,254.3 380.73,250.65 382.1,243.82 382.88,240.95 383.66,237.97 384.44,236.45 385.22,234.07 386.59,231.14 387.95,229.19 389.12,228.21 390.49,231.14 391.85,236.02 392.63,239.32 393.41,242.85 394.2,245.97 394.98,247.72 395.95,249.77 396.93,251.63 397.9,252.79 398.88,254.55 399.85,255.28 400.83,256.5 402.2,257.48 402.2,257.5" fill="#bebebe"/>
<polyline points="377.8,257.48 378.41,257.2 379.02,257.2 379.63,257.16 380.24,257.2 380.85,257.2 381.46,257.2 382.07,257.2 382.68,257.2 383.29,257.2 383.9,257.05 384.51,257.2 385.12,257.2 385.73,257.2 386.34,257.2 386.95,257.2 387.56,257.2 388.17,257.2 388.78,257.2 389.39,257 390,257.2 390.61,257.2 391.22,256.94 391.83,257.2 392.44,257.2 393.05,257.2 393.66,257.11 394.27,257.2 394.88,257.2 395.49,257.19 396.1,257.2 396.71,256.85 397.32,257.2 397.93,257.2 398.54,257.03 399.15,257.2 399.76,257.03 400.37,257.1 400.98,257.13 401.59,257.2 402.2,257.09 403.17,256.5 403.95,255.25 404.73,254.55 405.41,252.01 406.1,249.68 406.78,246.59 407.46,243.82 408.24,241.98 409.02,239.92 409.8,239.11 410.59,236.99 411.56,236.02 412.24,236.58 412.93,237.97 413.71,240.09 414.49,240.9 415.17,242.17 415.85,243.82 416.54,245.78 417.22,247.72 418,248.73 418.78,250.65 419.43,251.64 420.08,253.3 420.73,253.58 421.38,254.29 422.03,254.95 422.68,255.14 423.33,255.1 423.98,255.22 424.63,255.53 425.28,255.67 425.93,256.25 426.59,256.5 427.24,256.71 427.89,256.92 428.54,256.44 429.19,257.06 429.84,257.2 430.49,257.09" fill="none" stroke="#111" stroke-width="0.95" stroke-linejoin="round"/>
<line x1="377.2" y1="217.5" x2="377.2" y2="257.5" stroke="#1a1a1a" stroke-width="1.15"/>
<path d="M375.7 217.5h1.5 M375.7 220h1.5 M375.7 222.5h1.5 M375.7 225h1.5 M375.7 227.5h1.5 M375.7 230h1.5 M375.7 232.5h1.5 M375.7 235h1.5 M375.7 237.5h1.5 M375.7 240h1.5 M375.7 242.5h1.5 M375.7 245h1.5 M375.7 247.5h1.5 M375.7 250h1.5 M375.7 252.5h1.5 M375.7 255h1.5 M375.7 257.5h1.5" stroke="#1a1a1a" stroke-width="0.75"/>
<line x1="377.2" y1="257.5" x2="431.4" y2="257.5" stroke="#1a1a1a" stroke-width="1.2"/>
<path d="M377.2 257.5v1.8 M381.28 257.5v1 M383.66 257.5v1 M385.36 257.5v1 M386.67 257.5v1 M387.74 257.5v1 M388.65 257.5v1 M389.44 257.5v1 M390.13 257.5v1 M390.75 257.5v1.8 M394.83 257.5v1 M397.21 257.5v1 M398.91 257.5v1 M400.22 257.5v1 M401.29 257.5v1 M402.2 257.5v1 M402.99 257.5v1 M403.68 257.5v1 M404.3 257.5v1.8 M408.38 257.5v1 M410.76 257.5v1 M412.46 257.5v1 M413.77 257.5v1 M414.84 257.5v1 M415.75 257.5v1 M416.54 257.5v1 M417.23 257.5v1 M417.85 257.5v1.8 M421.93 257.5v1 M424.31 257.5v1 M426.01 257.5v1 M427.32 257.5v1 M428.39 257.5v1 M429.3 257.5v1 M430.09 257.5v1 M430.78 257.5v1 M431.4 257.5v1.8" stroke="#1a1a1a" stroke-width="0.6"/>
<text x="374.5" y="265.4" class="t">10<tspan class="sp" dy="-3.0">0</tspan></text>
<text x="387.8" y="265.4" class="t">10<tspan class="sp" dy="-3.0">1</tspan></text>
<text x="401.1" y="265.4" class="t">10<tspan class="sp" dy="-3.0">2</tspan></text>
<text x="414.4" y="265.4" class="t">10<tspan class="sp" dy="-3.0">3</tspan></text>
<text x="427.7" y="265.4" class="t">10<tspan class="sp" dy="-3.0">4</tspan></text>
<polygon points="461.3,258.3 461.3,258.3 461.3,246.55 462.3,246.55 462.3,258.3 462.98,254.35 464.15,250.45 465.32,242.06 466.1,238.53 466.88,234.84 468.05,229.96 468.83,228.01 470,225.09 470.98,223.13 471.95,222.16 472.93,220.21 473.71,216.89 474.49,223.13 475.66,228.01 476.63,235.82 477.22,242.06 478.39,248.5 479.37,253.38 480.34,253.8 481.32,255.33 482.1,255.32 482.88,255.22 483.66,255.61 484.44,256.51 485.22,256.3 486,256.6 486.78,256.83 487.56,257.13 488.34,257.42 489.12,257.28 490.1,257.85 491.07,258.26 491.07,258.3" fill="#bebebe"/>
<polyline points="460.4,258.26 461.02,258 461.65,258 462.27,258 462.9,258 463.52,258 464.15,257.89 464.77,258 465.4,258 466.02,258 466.64,257.7 467.27,257.72 467.89,257.59 468.52,258 469.14,258 469.77,257.95 470.39,257.71 471.01,258 471.64,257.97 472.26,257.77 472.89,257.52 473.51,257.67 474.16,257.25 474.81,257.08 475.46,256.89 476.11,256.53 476.76,256.43 477.41,256.3 478.07,256.13 478.72,256.13 479.37,255.33 480.02,254.12 480.67,254.12 481.32,253.38 481.97,252 482.62,251.43 483.27,251.43 483.92,251.37 484.57,250.28 485.22,249.48 486,248.85 486.78,246.55 487.46,245.47 488.15,244.6 488.83,243.14 489.51,243.62 490.29,242.42 491.07,241.67 491.85,239.9 492.63,237.77 493.32,235.72 494,231.91 494.68,229.95 495.37,226.06 496.54,220.21 497.32,218.26 498.49,224.11 499.46,229.96 500.44,237.77 501.12,241.62 501.8,245.57 502.49,248.32 503.17,251.43 503.95,252.27 504.73,254.35 505.38,254.73 506.03,254.39 506.68,254.94 507.41,254.62 508.15,254.56 508.88,254.66 509.61,255.33 510.26,255.85 510.91,255.59 511.56,256.3 512.21,257.06 512.86,256.6 513.51,257.28" fill="none" stroke="#111" stroke-width="0.95" stroke-linejoin="round"/>
<line x1="460.4" y1="217.3" x2="460.4" y2="258.3" stroke="#1a1a1a" stroke-width="1.15"/>
<path d="M458.9 217.3h1.5 M458.9 219.86h1.5 M458.9 222.43h1.5 M458.9 224.99h1.5 M458.9 227.55h1.5 M458.9 230.11h1.5 M458.9 232.68h1.5 M458.9 235.24h1.5 M458.9 237.8h1.5 M458.9 240.36h1.5 M458.9 242.93h1.5 M458.9 245.49h1.5 M458.9 248.05h1.5 M458.9 250.61h1.5 M458.9 253.18h1.5 M458.9 255.74h1.5 M458.9 258.3h1.5" stroke="#1a1a1a" stroke-width="0.75"/>
<line x1="460.4" y1="258.3" x2="514.75" y2="258.3" stroke="#1a1a1a" stroke-width="1.2"/>
<path d="M460.4 258.3v1.8 M464.49 258.3v1 M466.88 258.3v1 M468.58 258.3v1 M469.9 258.3v1 M470.97 258.3v1 M471.88 258.3v1 M472.67 258.3v1 M473.37 258.3v1 M473.99 258.3v1.8 M478.08 258.3v1 M480.47 258.3v1 M482.17 258.3v1 M483.48 258.3v1 M484.56 258.3v1 M485.47 258.3v1 M486.26 258.3v1 M486.95 258.3v1 M487.57 258.3v1.8 M491.67 258.3v1 M494.06 258.3v1 M495.76 258.3v1 M497.07 258.3v1 M498.15 258.3v1 M499.06 258.3v1 M499.85 258.3v1 M500.54 258.3v1 M501.16 258.3v1.8 M505.25 258.3v1 M507.65 258.3v1 M509.34 258.3v1 M510.66 258.3v1 M511.74 258.3v1 M512.65 258.3v1 M513.43 258.3v1 M514.13 258.3v1 M514.75 258.3v1.8" stroke="#1a1a1a" stroke-width="0.6"/>
<text x="457.7" y="266.2" class="t">10<tspan class="sp" dy="-3.0">0</tspan></text>
<text x="471.04" y="266.2" class="t">10<tspan class="sp" dy="-3.0">1</tspan></text>
<text x="484.38" y="266.2" class="t">10<tspan class="sp" dy="-3.0">2</tspan></text>
<text x="497.71" y="266.2" class="t">10<tspan class="sp" dy="-3.0">3</tspan></text>
<text x="511.05" y="266.2" class="t">10<tspan class="sp" dy="-3.0">4</tspan></text>
</svg>
</body></html>
